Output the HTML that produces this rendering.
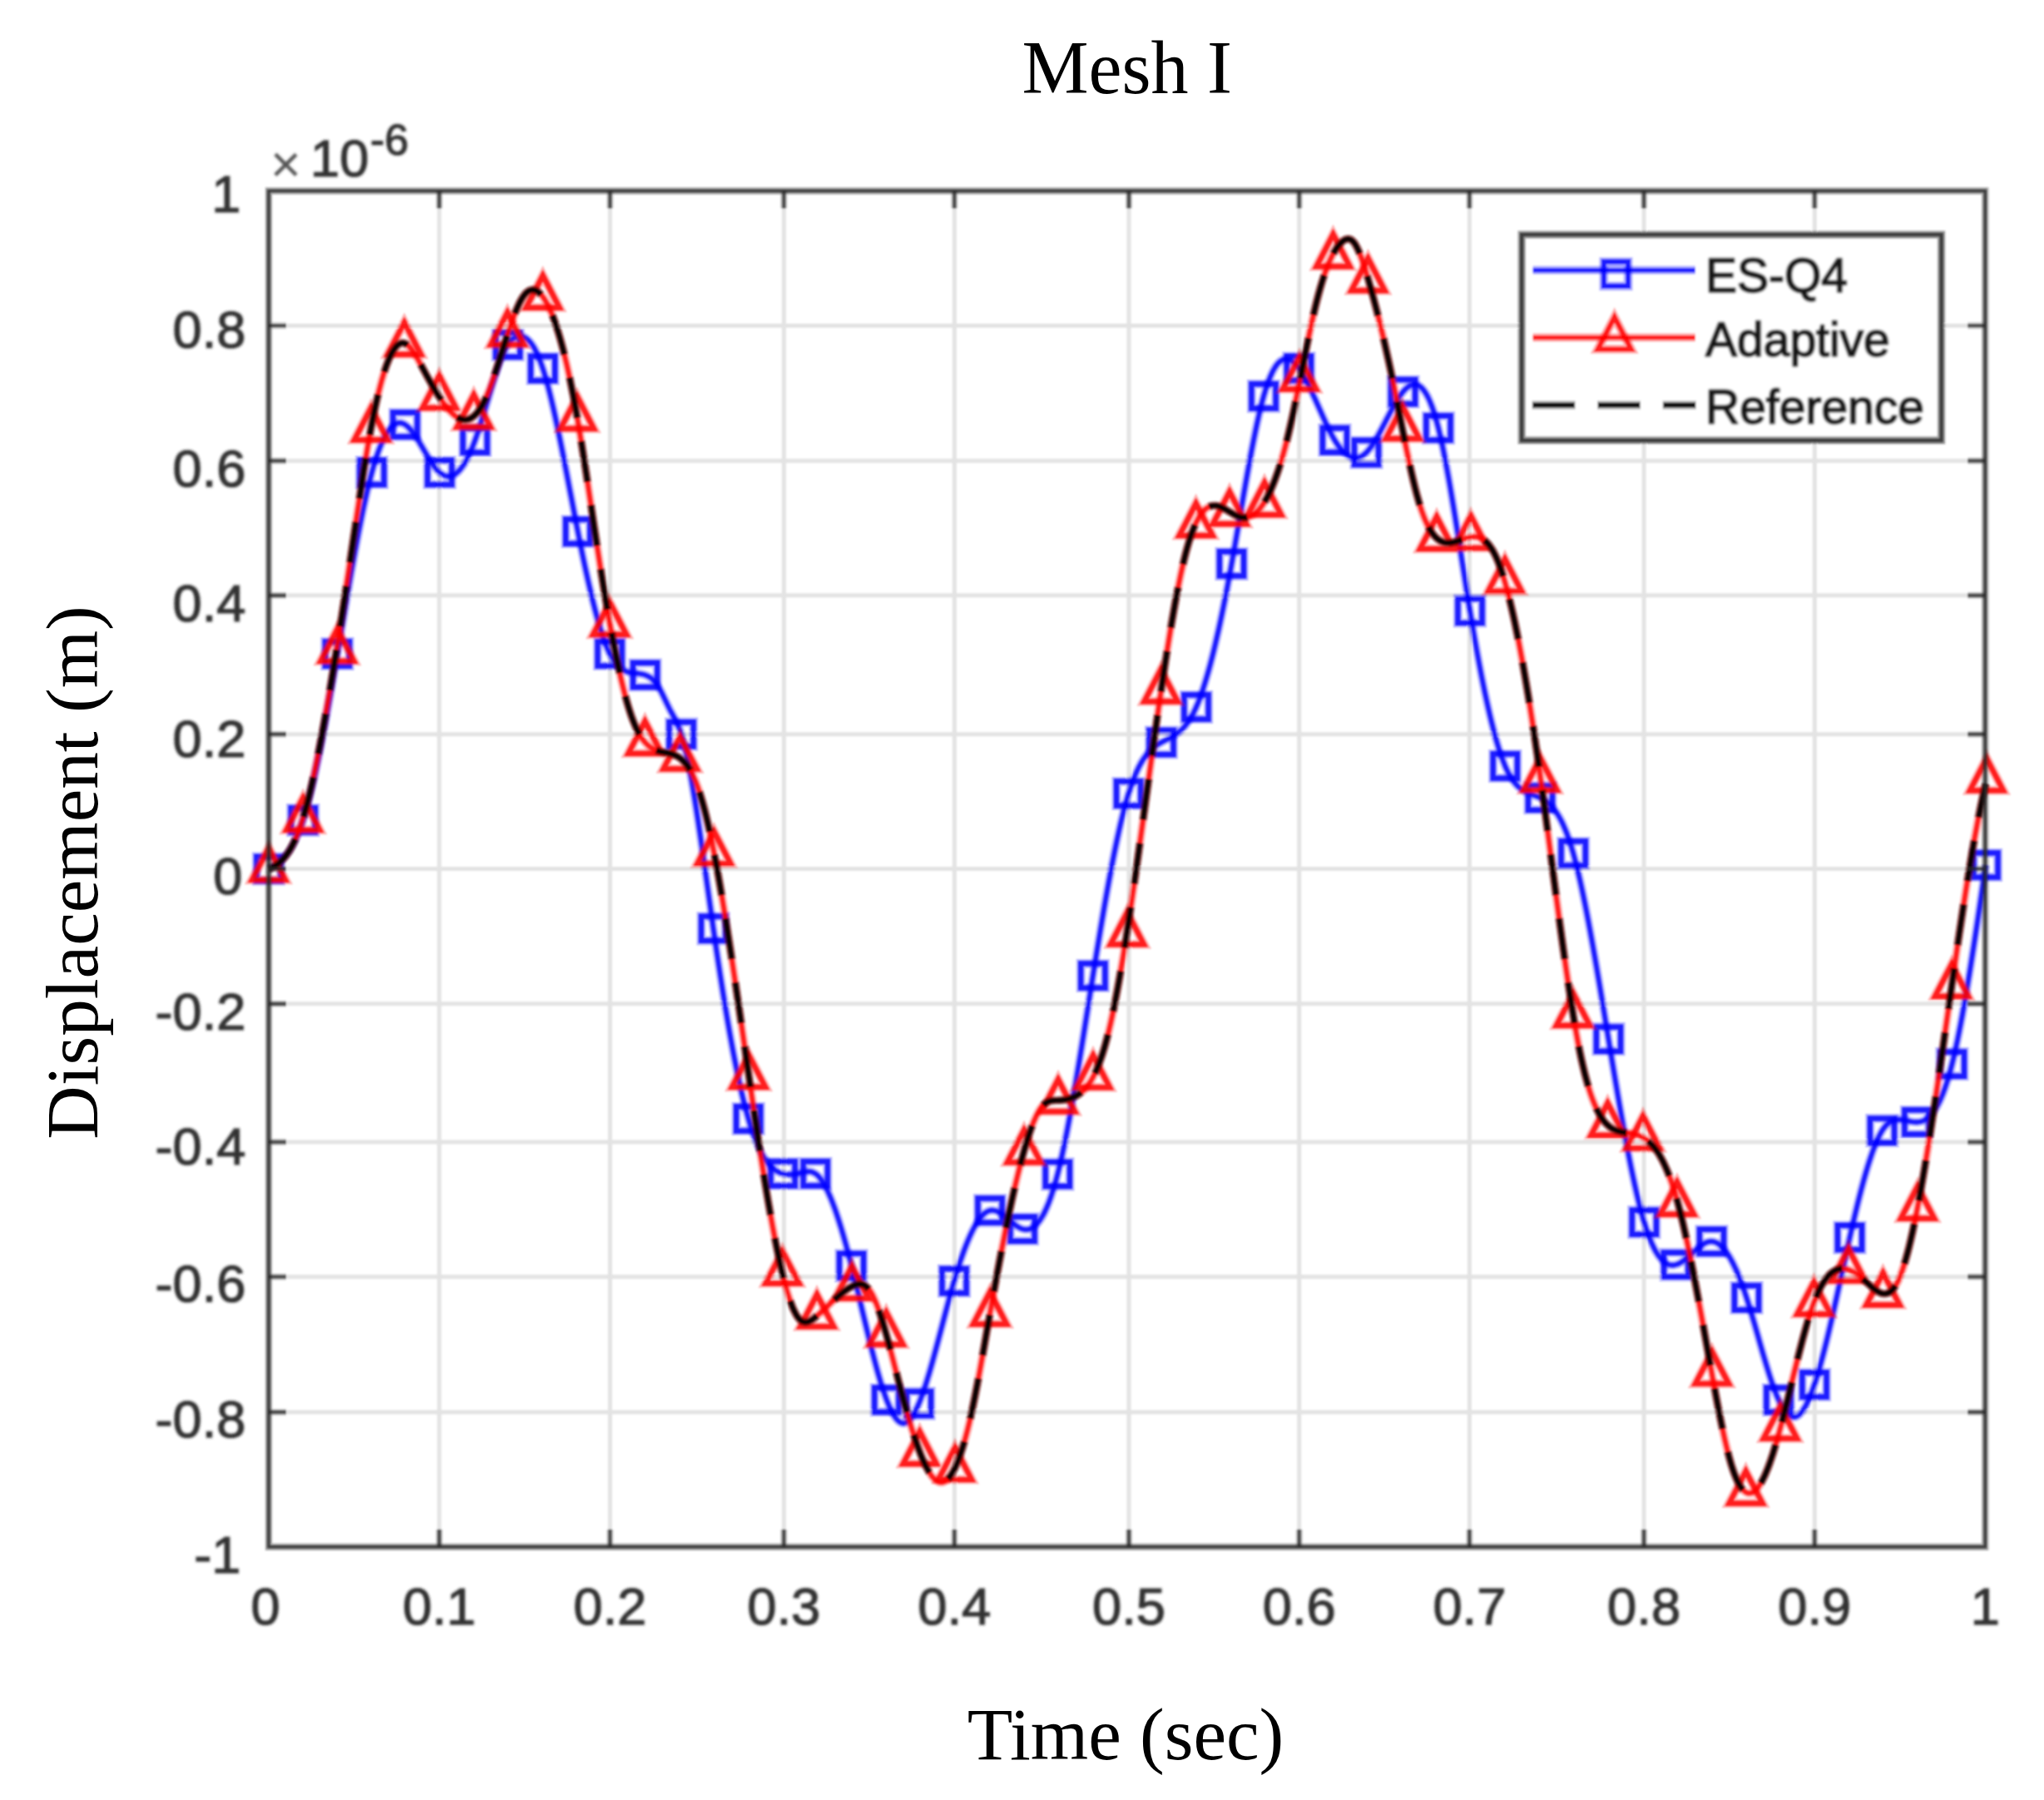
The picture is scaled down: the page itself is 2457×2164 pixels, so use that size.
<!DOCTYPE html>
<html><head><meta charset="utf-8"><title>Mesh I</title>
<style>
html,body{margin:0;padding:0;background:#fff;}
body{width:2457px;height:2164px;overflow:hidden;}
svg{display:block;}
.sans{font-family:"Liberation Sans",Arial,Helvetica,sans-serif;}
.serif{font-family:"Liberation Serif","Times New Roman",Times,serif;}
</style></head><body>
<svg width="2457" height="2164" viewBox="0 0 2457 2164">
<defs><filter id="b" x="-2%" y="-2%" width="104%" height="104%"><feGaussianBlur stdDeviation="1.15"/></filter>
<filter id="bt" x="-5%" y="-20%" width="110%" height="140%"><feGaussianBlur stdDeviation="1.1"/></filter>
<filter id="b2" x="-2%" y="-2%" width="104%" height="104%"><feGaussianBlur stdDeviation="0.6"/></filter></defs>
<rect width="2457" height="2164" fill="#fff"/>
<g filter="url(#b)">
<path d="M528 229.5V1859.7M733.3 229.5V1859.7M942.3 229.5V1859.7M1147.3 229.5V1859.7M1357 229.5V1859.7M1561.7 229.5V1859.7M1766.4 229.5V1859.7M1976.1 229.5V1859.7M2181.3 229.5V1859.7M323 391.5H2386.3M323 554H2386.3M323 715.8H2386.3M323 882.7H2386.3M323 1044.5H2386.3M323 1206.8H2386.3M323 1373H2386.3M323 1535H2386.3M323 1697.7H2386.3" stroke="#e3e3e3" stroke-width="5.0" fill="none"/>
<path d="M323 1044.5 L325 1043.3 L327 1042.1 L329 1040.9 L331 1039.6 L333 1038.2 L335 1036.7 L337 1035 L339 1033.2 L341 1031.2 L343 1029 L345 1026.5 L347 1023.8 L349 1020.8 L351 1017.5 L353 1013.8 L355 1009.9 L357 1005.5 L359 1000.7 L361 995.5 L363 989.9 L365 983.8 L367 977.2 L369 970.2 L371 962.7 L373 954.8 L375 946.5 L377 937.9 L379 928.9 L381 919.5 L383 909.9 L385 899.9 L387 889.7 L389 879.2 L391 868.5 L393 857.6 L395 846.5 L397 835.3 L399 823.8 L401 812.3 L403 800.7 L405 788.9 L407 777.2 L409 765.3 L411 753.5 L413 741.7 L415 729.9 L417 718.2 L419 706.5 L421 695 L423 683.7 L425 672.5 L427 661.5 L429 650.7 L431 640.2 L433 629.9 L435 620 L437 610.3 L439 601.1 L441 592.2 L443 583.7 L445 575.6 L447 568 L449 560.9 L451 554.2 L453 548 L455 542.3 L457 537.1 L459 532.3 L461 528 L463 524.1 L465 520.6 L467 517.6 L469 515 L471 512.9 L473 511.2 L475 509.9 L477 509 L479 508.5 L481 508.4 L483 508.7 L485 509.4 L487 510.5 L489 512 L491 513.8 L493 515.9 L495 518.3 L497 521 L499 523.8 L501 526.9 L503 530 L505 533.3 L507 536.7 L509 540.1 L511 543.5 L513 546.8 L515 550.1 L517 553.3 L519 556.4 L521 559.3 L523 562 L525 564.4 L527 566.6 L529 568.4 L531 570 L533 571.2 L535 572 L537 572.5 L539 572.7 L541 572.6 L543 572.1 L545 571.3 L547 570.1 L549 568.6 L551 566.8 L553 564.6 L555 562 L557 559.2 L559 556 L561 552.4 L563 548.5 L565 544.3 L567 539.7 L569 534.8 L571 529.5 L573 523.9 L575 518 L577 511.8 L579 505.4 L581 498.9 L583 492.3 L585 485.6 L587 478.9 L589 472.2 L591 465.5 L593 459 L595 452.7 L597 446.6 L599 440.7 L601 435.2 L603 430 L605 425.2 L607 420.9 L609 417 L611 413.7 L613 411 L615 408.8 L617 407 L619 405.7 L621 404.9 L623 404.3 L625 404.1 L627 404.3 L629 404.8 L631 405.7 L633 407 L635 408.8 L637 410.9 L639 413.4 L641 416.4 L643 419.9 L645 423.8 L647 428.3 L649 433.2 L651 438.6 L653 444.5 L655 451 L657 458 L659 465.4 L661 473.2 L663 481.5 L665 490.1 L667 499.1 L669 508.3 L671 517.8 L673 527.6 L675 537.5 L677 547.6 L679 557.9 L681 568.2 L683 578.7 L685 589.2 L687 599.6 L689 610.1 L691 620.5 L693 630.8 L695 641 L697 651.1 L699 661 L701 670.7 L703 680.2 L705 689.4 L707 698.5 L709 707.2 L711 715.7 L713 723.9 L715 731.8 L717 739.4 L719 746.6 L721 753.5 L723 760 L725 766.1 L727 771.7 L729 776.9 L731 781.7 L733 786 L735 789.8 L737 793.2 L739 796.1 L741 798.6 L743 800.8 L745 802.6 L747 804.2 L749 805.4 L751 806.5 L753 807.3 L755 807.9 L757 808.4 L759 808.8 L761 809.1 L763 809.3 L765 809.5 L767 809.7 L769 810 L771 810.3 L773 810.8 L775 811.3 L777 812.1 L779 813 L781 814.2 L783 815.6 L785 817.4 L787 819.5 L789 822 L791 824.9 L793 828.2 L795 832 L797 836 L799 840.2 L801 844.4 L803 848.6 L805 852.6 L807 856.4 L809 860 L811 863.6 L813 867.5 L815 871.9 L817 876.9 L819 882.7 L821 889.5 L823 897.2 L825 905.9 L827 915.4 L829 925.6 L831 936.5 L833 948.1 L835 960.2 L837 972.8 L839 985.9 L841 999.4 L843 1013.1 L845 1027.1 L847 1041.3 L849 1055.6 L851 1070 L853 1084.4 L855 1098.6 L857 1112.8 L859 1126.7 L861 1140.5 L863 1153.9 L865 1167.2 L867 1180.2 L869 1192.9 L871 1205.3 L873 1217.4 L875 1229.2 L877 1240.7 L879 1251.9 L881 1262.7 L883 1273.2 L885 1283.3 L887 1293 L889 1302.4 L891 1311.3 L893 1319.9 L895 1328 L897 1335.7 L899 1342.9 L901 1349.7 L903 1356.1 L905 1362 L907 1367.5 L909 1372.5 L911 1377.2 L913 1381.6 L915 1385.5 L917 1389.2 L919 1392.4 L921 1395.4 L923 1398.1 L925 1400.5 L927 1402.6 L929 1404.4 L931 1406.1 L933 1407.4 L935 1408.6 L937 1409.6 L939 1410.4 L941 1411 L943 1411.5 L945 1411.8 L947 1412 L949 1412 L951 1412 L953 1411.8 L955 1411.6 L957 1411.3 L959 1410.9 L961 1410.4 L963 1409.9 L965 1409.4 L967 1409 L969 1408.6 L971 1408.4 L973 1408.5 L975 1408.7 L977 1409.3 L979 1410.3 L981 1411.6 L983 1413.3 L985 1415.5 L987 1418.1 L989 1421 L991 1424.4 L993 1428.1 L995 1432.2 L997 1436.6 L999 1441.3 L1001 1446.4 L1003 1451.7 L1005 1457.4 L1007 1463.3 L1009 1469.6 L1011 1476 L1013 1482.7 L1015 1489.7 L1017 1496.9 L1019 1504.3 L1021 1511.9 L1023 1519.6 L1025 1527.6 L1027 1535.7 L1029 1543.9 L1031 1552.2 L1033 1560.6 L1035 1569 L1037 1577.5 L1039 1585.9 L1041 1594.2 L1043 1602.5 L1045 1610.7 L1047 1618.8 L1049 1626.7 L1051 1634.4 L1053 1641.9 L1055 1649.2 L1057 1656.2 L1059 1662.9 L1061 1669.2 L1063 1675.2 L1065 1680.9 L1067 1686.1 L1069 1690.9 L1071 1695.2 L1073 1699 L1075 1702.4 L1077 1705.2 L1079 1707.5 L1081 1709.3 L1083 1710.4 L1085 1711 L1087 1711 L1089 1710.3 L1091 1709.1 L1093 1707.3 L1095 1705 L1097 1702.2 L1099 1698.9 L1101 1695.1 L1103 1690.9 L1105 1686.2 L1107 1681.1 L1109 1675.7 L1111 1669.9 L1113 1663.8 L1115 1657.3 L1117 1650.7 L1119 1643.8 L1121 1636.7 L1123 1629.4 L1125 1622 L1127 1614.5 L1129 1606.9 L1131 1599.3 L1133 1591.7 L1135 1584 L1137 1576.4 L1139 1568.9 L1141 1561.4 L1143 1554.1 L1145 1547 L1147 1540 L1149 1533.3 L1151 1526.7 L1153 1520.4 L1155 1514.4 L1157 1508.6 L1159 1503 L1161 1497.8 L1163 1492.8 L1165 1488 L1167 1483.6 L1169 1479.4 L1171 1475.6 L1173 1472 L1175 1468.8 L1177 1465.9 L1179 1463.3 L1181 1461 L1183 1459.1 L1185 1457.6 L1187 1456.4 L1189 1455.6 L1191 1455.1 L1193 1455 L1195 1455.3 L1197 1455.8 L1199 1456.6 L1201 1457.6 L1203 1458.9 L1205 1460.2 L1207 1461.7 L1209 1463.4 L1211 1465 L1213 1466.7 L1215 1468.4 L1217 1470.1 L1219 1471.7 L1221 1473.2 L1223 1474.6 L1225 1475.8 L1227 1476.7 L1229 1477.5 L1231 1478 L1233 1478.2 L1235 1478.1 L1237 1477.7 L1239 1477 L1241 1476 L1243 1474.6 L1245 1472.9 L1247 1470.8 L1249 1468.4 L1251 1465.5 L1253 1462.2 L1255 1458.6 L1257 1454.5 L1259 1449.9 L1261 1444.9 L1263 1439.5 L1265 1433.5 L1267 1427.1 L1269 1420.2 L1271 1412.8 L1273 1404.8 L1275 1396.3 L1277 1387.4 L1279 1378 L1281 1368.2 L1283 1358 L1285 1347.5 L1287 1336.6 L1289 1325.4 L1291 1314 L1293 1302.3 L1295 1290.3 L1297 1278.2 L1299 1266 L1301 1253.6 L1303 1241.1 L1305 1228.5 L1307 1215.9 L1309 1203.2 L1311 1190.6 L1313 1178 L1315 1165.5 L1317 1153.1 L1319 1140.8 L1321 1128.6 L1323 1116.5 L1325 1104.7 L1327 1093 L1329 1081.5 L1331 1070.2 L1333 1059.2 L1335 1048.5 L1337 1038 L1339 1027.8 L1341 1017.9 L1343 1008.4 L1345 999.2 L1347 990.4 L1349 982 L1351 974 L1353 966.5 L1355 959.4 L1357 952.7 L1359 946.5 L1361 940.8 L1363 935.5 L1365 930.7 L1367 926.2 L1369 922.1 L1371 918.4 L1373 914.9 L1375 911.8 L1377 909 L1379 906.5 L1381 904.1 L1383 902.1 L1385 900.2 L1387 898.5 L1389 896.9 L1391 895.5 L1393 894.2 L1395 893.1 L1397 892 L1399 890.9 L1401 889.9 L1403 888.9 L1405 887.8 L1407 886.8 L1409 885.7 L1411 884.5 L1413 883.2 L1415 881.8 L1417 880.3 L1419 878.5 L1421 876.6 L1423 874.5 L1425 872.2 L1427 869.6 L1429 866.8 L1431 863.6 L1433 860.2 L1435 856.4 L1437 852.2 L1439 847.7 L1441 842.8 L1443 837.5 L1445 831.8 L1447 825.7 L1449 819.3 L1451 812.6 L1453 805.5 L1455 798.1 L1457 790.3 L1459 782.3 L1461 773.9 L1463 765.2 L1465 756.3 L1467 747 L1469 737.5 L1471 727.7 L1473 717.7 L1475 707.4 L1477 696.8 L1479 686 L1481 675 L1483 663.8 L1485 652.4 L1487 640.9 L1489 629.3 L1491 617.7 L1493 606.1 L1495 594.5 L1497 583 L1499 571.7 L1501 560.6 L1503 549.7 L1505 539.1 L1507 528.8 L1509 518.9 L1511 509.4 L1513 500.3 L1515 491.7 L1517 483.7 L1519 476.3 L1521 469.5 L1523 463.3 L1525 457.7 L1527 452.8 L1529 448.3 L1531 444.5 L1533 441.1 L1535 438.3 L1537 436 L1539 434.2 L1541 432.9 L1543 432 L1545 431.6 L1547 431.6 L1549 432 L1551 432.8 L1553 434 L1555 435.6 L1557 437.5 L1559 439.7 L1561 442.3 L1563 445.1 L1565 448.2 L1567 451.6 L1569 455.2 L1571 459 L1573 463 L1575 467.1 L1577 471.4 L1579 475.8 L1581 480.2 L1583 484.7 L1585 489.2 L1587 493.7 L1589 498.2 L1591 502.6 L1593 507 L1595 511.3 L1597 515.4 L1599 519.4 L1601 523.2 L1603 526.8 L1605 530.2 L1607 533.3 L1609 536.2 L1611 538.9 L1613 541.2 L1615 543.4 L1617 545.2 L1619 546.8 L1621 548.1 L1623 549.2 L1625 549.9 L1627 550.4 L1629 550.6 L1631 550.5 L1633 550.1 L1635 549.4 L1637 548.4 L1639 547 L1641 545.4 L1643 543.5 L1645 541.2 L1647 538.7 L1649 535.9 L1651 532.9 L1653 529.7 L1655 526.3 L1657 522.7 L1659 519.1 L1661 515.3 L1663 511.5 L1665 507.6 L1667 503.7 L1669 499.9 L1671 496.1 L1673 492.3 L1675 488.7 L1677 485.2 L1679 481.8 L1681 478.6 L1683 475.6 L1685 472.9 L1687 470.4 L1689 468.2 L1691 466.3 L1693 464.8 L1695 463.5 L1697 462.7 L1699 462.2 L1701 462.2 L1703 462.5 L1705 463.3 L1707 464.6 L1709 466.3 L1711 468.6 L1713 471.3 L1715 474.7 L1717 478.5 L1719 483 L1721 488 L1723 493.6 L1725 499.9 L1727 506.9 L1729 514.5 L1731 522.8 L1733 531.7 L1735 541.3 L1737 551.4 L1739 562 L1741 573 L1743 584.4 L1745 596.2 L1747 608.3 L1749 620.6 L1751 633.1 L1753 645.7 L1755 658.5 L1757 671.3 L1759 684.1 L1761 696.9 L1763 709.6 L1765 722.1 L1767 734.4 L1769 746.5 L1771 758.3 L1773 769.8 L1775 781.1 L1777 792.1 L1779 802.8 L1781 813.2 L1783 823.2 L1785 833 L1787 842.3 L1789 851.4 L1791 860.1 L1793 868.4 L1795 876.3 L1797 883.8 L1799 891 L1801 897.7 L1803 904 L1805 909.9 L1807 915.3 L1809 920.3 L1811 924.8 L1813 928.9 L1815 932.6 L1817 935.8 L1819 938.8 L1821 941.4 L1823 943.6 L1825 945.7 L1827 947.4 L1829 949 L1831 950.3 L1833 951.5 L1835 952.5 L1837 953.4 L1839 954.3 L1841 955 L1843 955.8 L1845 956.5 L1847 957.3 L1849 958.1 L1851 959 L1853 960 L1855 961.1 L1857 962.3 L1859 963.8 L1861 965.4 L1863 967.2 L1865 969.2 L1867 971.5 L1869 974.1 L1871 976.9 L1873 980.1 L1875 983.5 L1877 987.3 L1879 991.5 L1881 996.1 L1883 1001 L1885 1006.4 L1887 1012.2 L1889 1018.5 L1891 1025.3 L1893 1032.6 L1895 1040.3 L1897 1048.5 L1899 1057.2 L1901 1066.2 L1903 1075.6 L1905 1085.4 L1907 1095.6 L1909 1106 L1911 1116.7 L1913 1127.7 L1915 1138.9 L1917 1150.3 L1919 1161.9 L1921 1173.7 L1923 1185.5 L1925 1197.5 L1927 1209.6 L1929 1221.8 L1931 1234 L1933 1246.2 L1935 1258.3 L1937 1270.5 L1939 1282.5 L1941 1294.5 L1943 1306.4 L1945 1318.2 L1947 1329.8 L1949 1341.3 L1951 1352.5 L1953 1363.6 L1955 1374.4 L1957 1384.9 L1959 1395.2 L1961 1405.2 L1963 1414.8 L1965 1424.1 L1967 1433 L1969 1441.6 L1971 1449.7 L1973 1457.4 L1975 1464.6 L1977 1471.4 L1979 1477.6 L1981 1483.4 L1983 1488.7 L1985 1493.6 L1987 1498 L1989 1502 L1991 1505.6 L1993 1508.8 L1995 1511.5 L1997 1513.9 L1999 1516 L2001 1517.6 L2003 1518.9 L2005 1519.9 L2007 1520.6 L2009 1521 L2011 1521 L2013 1520.8 L2015 1520.3 L2017 1519.6 L2019 1518.6 L2021 1517.4 L2023 1516 L2025 1514.5 L2027 1512.9 L2029 1511.2 L2031 1509.4 L2033 1507.5 L2035 1505.7 L2037 1503.9 L2039 1502.1 L2041 1500.4 L2043 1498.8 L2045 1497.3 L2047 1495.9 L2049 1494.8 L2051 1493.8 L2053 1493.1 L2055 1492.7 L2057 1492.5 L2059 1492.6 L2061 1493.1 L2063 1493.9 L2065 1495 L2067 1496.4 L2069 1498.1 L2071 1500.2 L2073 1502.5 L2075 1505.1 L2077 1508 L2079 1511.2 L2081 1514.7 L2083 1518.5 L2085 1522.6 L2087 1526.9 L2089 1531.6 L2091 1536.4 L2093 1541.6 L2095 1547 L2097 1552.7 L2099 1558.7 L2101 1564.9 L2103 1571.3 L2105 1577.9 L2107 1584.7 L2109 1591.6 L2111 1598.6 L2113 1605.6 L2115 1612.7 L2117 1619.7 L2119 1626.7 L2121 1633.5 L2123 1640.3 L2125 1646.8 L2127 1653.2 L2129 1659.3 L2131 1665.2 L2133 1670.7 L2135 1675.9 L2137 1680.7 L2139 1685.1 L2141 1689.1 L2143 1692.6 L2145 1695.6 L2147 1698.2 L2149 1700.3 L2151 1701.9 L2153 1703 L2155 1703.6 L2157 1703.6 L2159 1703.1 L2161 1702.1 L2163 1700.5 L2165 1698.4 L2167 1695.9 L2169 1692.8 L2171 1689.2 L2173 1685.2 L2175 1680.7 L2177 1675.8 L2179 1670.4 L2181 1664.7 L2183 1658.6 L2185 1652.1 L2187 1645.2 L2189 1638 L2191 1630.5 L2193 1622.8 L2195 1614.8 L2197 1606.6 L2199 1598.1 L2201 1589.5 L2203 1580.8 L2205 1571.9 L2207 1562.9 L2209 1553.8 L2211 1544.7 L2213 1535.5 L2215 1526.3 L2217 1517.2 L2219 1508.1 L2221 1499 L2223 1490 L2225 1481.2 L2227 1472.4 L2229 1463.9 L2231 1455.5 L2233 1447.2 L2235 1439.2 L2237 1431.4 L2239 1423.8 L2241 1416.5 L2243 1409.5 L2245 1402.8 L2247 1396.4 L2249 1390.3 L2251 1384.5 L2253 1379.2 L2255 1374.2 L2257 1369.6 L2259 1365.4 L2261 1361.7 L2263 1358.4 L2265 1355.6 L2267 1353.2 L2269 1351.3 L2271 1349.6 L2273 1348.4 L2275 1347.4 L2277 1346.7 L2279 1346.3 L2281 1346.1 L2283 1346 L2285 1346.1 L2287 1346.4 L2289 1346.7 L2291 1347.1 L2293 1347.5 L2295 1347.9 L2297 1348.3 L2299 1348.7 L2301 1348.9 L2303 1349 L2305 1349 L2307 1348.7 L2309 1348.3 L2311 1347.7 L2313 1346.8 L2315 1345.6 L2317 1344.2 L2319 1342.5 L2321 1340.5 L2323 1338.1 L2325 1335.4 L2327 1332.4 L2329 1328.9 L2331 1325.1 L2333 1320.8 L2335 1316 L2337 1310.8 L2339 1305.1 L2341 1299 L2343 1292.2 L2345 1285 L2347 1277.2 L2349 1268.8 L2351 1259.9 L2353 1250.5 L2355 1240.6 L2357 1230.3 L2359 1219.5 L2361 1208.3 L2363 1196.8 L2365 1184.9 L2367 1172.7 L2369 1160.3 L2371 1147.5 L2373 1134.6 L2375 1121.5 L2377 1108.1 L2379 1094.7 L2381 1081.1 L2383 1067.5 L2385 1053.7 L2387 1040" stroke="#0000ff" stroke-width="10.4" stroke-opacity="0.3" fill="none" stroke-linejoin="round"/><path d="M323 1044.5 L325 1043.3 L327 1042.1 L329 1040.9 L331 1039.6 L333 1038.2 L335 1036.7 L337 1035 L339 1033.2 L341 1031.2 L343 1029 L345 1026.5 L347 1023.8 L349 1020.8 L351 1017.5 L353 1013.8 L355 1009.9 L357 1005.5 L359 1000.7 L361 995.5 L363 989.9 L365 983.8 L367 977.2 L369 970.2 L371 962.7 L373 954.8 L375 946.5 L377 937.9 L379 928.9 L381 919.5 L383 909.9 L385 899.9 L387 889.7 L389 879.2 L391 868.5 L393 857.6 L395 846.5 L397 835.3 L399 823.8 L401 812.3 L403 800.7 L405 788.9 L407 777.2 L409 765.3 L411 753.5 L413 741.7 L415 729.9 L417 718.2 L419 706.5 L421 695 L423 683.7 L425 672.5 L427 661.5 L429 650.7 L431 640.2 L433 629.9 L435 620 L437 610.3 L439 601.1 L441 592.2 L443 583.7 L445 575.6 L447 568 L449 560.9 L451 554.2 L453 548 L455 542.3 L457 537.1 L459 532.3 L461 528 L463 524.1 L465 520.6 L467 517.6 L469 515 L471 512.9 L473 511.2 L475 509.9 L477 509 L479 508.5 L481 508.4 L483 508.7 L485 509.4 L487 510.5 L489 512 L491 513.8 L493 515.9 L495 518.3 L497 521 L499 523.8 L501 526.9 L503 530 L505 533.3 L507 536.7 L509 540.1 L511 543.5 L513 546.8 L515 550.1 L517 553.3 L519 556.4 L521 559.3 L523 562 L525 564.4 L527 566.6 L529 568.4 L531 570 L533 571.2 L535 572 L537 572.5 L539 572.7 L541 572.6 L543 572.1 L545 571.3 L547 570.1 L549 568.6 L551 566.8 L553 564.6 L555 562 L557 559.2 L559 556 L561 552.4 L563 548.5 L565 544.3 L567 539.7 L569 534.8 L571 529.5 L573 523.9 L575 518 L577 511.8 L579 505.4 L581 498.9 L583 492.3 L585 485.6 L587 478.9 L589 472.2 L591 465.5 L593 459 L595 452.7 L597 446.6 L599 440.7 L601 435.2 L603 430 L605 425.2 L607 420.9 L609 417 L611 413.7 L613 411 L615 408.8 L617 407 L619 405.7 L621 404.9 L623 404.3 L625 404.1 L627 404.3 L629 404.8 L631 405.7 L633 407 L635 408.8 L637 410.9 L639 413.4 L641 416.4 L643 419.9 L645 423.8 L647 428.3 L649 433.2 L651 438.6 L653 444.5 L655 451 L657 458 L659 465.4 L661 473.2 L663 481.5 L665 490.1 L667 499.1 L669 508.3 L671 517.8 L673 527.6 L675 537.5 L677 547.6 L679 557.9 L681 568.2 L683 578.7 L685 589.2 L687 599.6 L689 610.1 L691 620.5 L693 630.8 L695 641 L697 651.1 L699 661 L701 670.7 L703 680.2 L705 689.4 L707 698.5 L709 707.2 L711 715.7 L713 723.9 L715 731.8 L717 739.4 L719 746.6 L721 753.5 L723 760 L725 766.1 L727 771.7 L729 776.9 L731 781.7 L733 786 L735 789.8 L737 793.2 L739 796.1 L741 798.6 L743 800.8 L745 802.6 L747 804.2 L749 805.4 L751 806.5 L753 807.3 L755 807.9 L757 808.4 L759 808.8 L761 809.1 L763 809.3 L765 809.5 L767 809.7 L769 810 L771 810.3 L773 810.8 L775 811.3 L777 812.1 L779 813 L781 814.2 L783 815.6 L785 817.4 L787 819.5 L789 822 L791 824.9 L793 828.2 L795 832 L797 836 L799 840.2 L801 844.4 L803 848.6 L805 852.6 L807 856.4 L809 860 L811 863.6 L813 867.5 L815 871.9 L817 876.9 L819 882.7 L821 889.5 L823 897.2 L825 905.9 L827 915.4 L829 925.6 L831 936.5 L833 948.1 L835 960.2 L837 972.8 L839 985.9 L841 999.4 L843 1013.1 L845 1027.1 L847 1041.3 L849 1055.6 L851 1070 L853 1084.4 L855 1098.6 L857 1112.8 L859 1126.7 L861 1140.5 L863 1153.9 L865 1167.2 L867 1180.2 L869 1192.9 L871 1205.3 L873 1217.4 L875 1229.2 L877 1240.7 L879 1251.9 L881 1262.7 L883 1273.2 L885 1283.3 L887 1293 L889 1302.4 L891 1311.3 L893 1319.9 L895 1328 L897 1335.7 L899 1342.9 L901 1349.7 L903 1356.1 L905 1362 L907 1367.5 L909 1372.5 L911 1377.2 L913 1381.6 L915 1385.5 L917 1389.2 L919 1392.4 L921 1395.4 L923 1398.1 L925 1400.5 L927 1402.6 L929 1404.4 L931 1406.1 L933 1407.4 L935 1408.6 L937 1409.6 L939 1410.4 L941 1411 L943 1411.5 L945 1411.8 L947 1412 L949 1412 L951 1412 L953 1411.8 L955 1411.6 L957 1411.3 L959 1410.9 L961 1410.4 L963 1409.9 L965 1409.4 L967 1409 L969 1408.6 L971 1408.4 L973 1408.5 L975 1408.7 L977 1409.3 L979 1410.3 L981 1411.6 L983 1413.3 L985 1415.5 L987 1418.1 L989 1421 L991 1424.4 L993 1428.1 L995 1432.2 L997 1436.6 L999 1441.3 L1001 1446.4 L1003 1451.7 L1005 1457.4 L1007 1463.3 L1009 1469.6 L1011 1476 L1013 1482.7 L1015 1489.7 L1017 1496.9 L1019 1504.3 L1021 1511.9 L1023 1519.6 L1025 1527.6 L1027 1535.7 L1029 1543.9 L1031 1552.2 L1033 1560.6 L1035 1569 L1037 1577.5 L1039 1585.9 L1041 1594.2 L1043 1602.5 L1045 1610.7 L1047 1618.8 L1049 1626.7 L1051 1634.4 L1053 1641.9 L1055 1649.2 L1057 1656.2 L1059 1662.9 L1061 1669.2 L1063 1675.2 L1065 1680.9 L1067 1686.1 L1069 1690.9 L1071 1695.2 L1073 1699 L1075 1702.4 L1077 1705.2 L1079 1707.5 L1081 1709.3 L1083 1710.4 L1085 1711 L1087 1711 L1089 1710.3 L1091 1709.1 L1093 1707.3 L1095 1705 L1097 1702.2 L1099 1698.9 L1101 1695.1 L1103 1690.9 L1105 1686.2 L1107 1681.1 L1109 1675.7 L1111 1669.9 L1113 1663.8 L1115 1657.3 L1117 1650.7 L1119 1643.8 L1121 1636.7 L1123 1629.4 L1125 1622 L1127 1614.5 L1129 1606.9 L1131 1599.3 L1133 1591.7 L1135 1584 L1137 1576.4 L1139 1568.9 L1141 1561.4 L1143 1554.1 L1145 1547 L1147 1540 L1149 1533.3 L1151 1526.7 L1153 1520.4 L1155 1514.4 L1157 1508.6 L1159 1503 L1161 1497.8 L1163 1492.8 L1165 1488 L1167 1483.6 L1169 1479.4 L1171 1475.6 L1173 1472 L1175 1468.8 L1177 1465.9 L1179 1463.3 L1181 1461 L1183 1459.1 L1185 1457.6 L1187 1456.4 L1189 1455.6 L1191 1455.1 L1193 1455 L1195 1455.3 L1197 1455.8 L1199 1456.6 L1201 1457.6 L1203 1458.9 L1205 1460.2 L1207 1461.7 L1209 1463.4 L1211 1465 L1213 1466.7 L1215 1468.4 L1217 1470.1 L1219 1471.7 L1221 1473.2 L1223 1474.6 L1225 1475.8 L1227 1476.7 L1229 1477.5 L1231 1478 L1233 1478.2 L1235 1478.1 L1237 1477.7 L1239 1477 L1241 1476 L1243 1474.6 L1245 1472.9 L1247 1470.8 L1249 1468.4 L1251 1465.5 L1253 1462.2 L1255 1458.6 L1257 1454.5 L1259 1449.9 L1261 1444.9 L1263 1439.5 L1265 1433.5 L1267 1427.1 L1269 1420.2 L1271 1412.8 L1273 1404.8 L1275 1396.3 L1277 1387.4 L1279 1378 L1281 1368.2 L1283 1358 L1285 1347.5 L1287 1336.6 L1289 1325.4 L1291 1314 L1293 1302.3 L1295 1290.3 L1297 1278.2 L1299 1266 L1301 1253.6 L1303 1241.1 L1305 1228.5 L1307 1215.9 L1309 1203.2 L1311 1190.6 L1313 1178 L1315 1165.5 L1317 1153.1 L1319 1140.8 L1321 1128.6 L1323 1116.5 L1325 1104.7 L1327 1093 L1329 1081.5 L1331 1070.2 L1333 1059.2 L1335 1048.5 L1337 1038 L1339 1027.8 L1341 1017.9 L1343 1008.4 L1345 999.2 L1347 990.4 L1349 982 L1351 974 L1353 966.5 L1355 959.4 L1357 952.7 L1359 946.5 L1361 940.8 L1363 935.5 L1365 930.7 L1367 926.2 L1369 922.1 L1371 918.4 L1373 914.9 L1375 911.8 L1377 909 L1379 906.5 L1381 904.1 L1383 902.1 L1385 900.2 L1387 898.5 L1389 896.9 L1391 895.5 L1393 894.2 L1395 893.1 L1397 892 L1399 890.9 L1401 889.9 L1403 888.9 L1405 887.8 L1407 886.8 L1409 885.7 L1411 884.5 L1413 883.2 L1415 881.8 L1417 880.3 L1419 878.5 L1421 876.6 L1423 874.5 L1425 872.2 L1427 869.6 L1429 866.8 L1431 863.6 L1433 860.2 L1435 856.4 L1437 852.2 L1439 847.7 L1441 842.8 L1443 837.5 L1445 831.8 L1447 825.7 L1449 819.3 L1451 812.6 L1453 805.5 L1455 798.1 L1457 790.3 L1459 782.3 L1461 773.9 L1463 765.2 L1465 756.3 L1467 747 L1469 737.5 L1471 727.7 L1473 717.7 L1475 707.4 L1477 696.8 L1479 686 L1481 675 L1483 663.8 L1485 652.4 L1487 640.9 L1489 629.3 L1491 617.7 L1493 606.1 L1495 594.5 L1497 583 L1499 571.7 L1501 560.6 L1503 549.7 L1505 539.1 L1507 528.8 L1509 518.9 L1511 509.4 L1513 500.3 L1515 491.7 L1517 483.7 L1519 476.3 L1521 469.5 L1523 463.3 L1525 457.7 L1527 452.8 L1529 448.3 L1531 444.5 L1533 441.1 L1535 438.3 L1537 436 L1539 434.2 L1541 432.9 L1543 432 L1545 431.6 L1547 431.6 L1549 432 L1551 432.8 L1553 434 L1555 435.6 L1557 437.5 L1559 439.7 L1561 442.3 L1563 445.1 L1565 448.2 L1567 451.6 L1569 455.2 L1571 459 L1573 463 L1575 467.1 L1577 471.4 L1579 475.8 L1581 480.2 L1583 484.7 L1585 489.2 L1587 493.7 L1589 498.2 L1591 502.6 L1593 507 L1595 511.3 L1597 515.4 L1599 519.4 L1601 523.2 L1603 526.8 L1605 530.2 L1607 533.3 L1609 536.2 L1611 538.9 L1613 541.2 L1615 543.4 L1617 545.2 L1619 546.8 L1621 548.1 L1623 549.2 L1625 549.9 L1627 550.4 L1629 550.6 L1631 550.5 L1633 550.1 L1635 549.4 L1637 548.4 L1639 547 L1641 545.4 L1643 543.5 L1645 541.2 L1647 538.7 L1649 535.9 L1651 532.9 L1653 529.7 L1655 526.3 L1657 522.7 L1659 519.1 L1661 515.3 L1663 511.5 L1665 507.6 L1667 503.7 L1669 499.9 L1671 496.1 L1673 492.3 L1675 488.7 L1677 485.2 L1679 481.8 L1681 478.6 L1683 475.6 L1685 472.9 L1687 470.4 L1689 468.2 L1691 466.3 L1693 464.8 L1695 463.5 L1697 462.7 L1699 462.2 L1701 462.2 L1703 462.5 L1705 463.3 L1707 464.6 L1709 466.3 L1711 468.6 L1713 471.3 L1715 474.7 L1717 478.5 L1719 483 L1721 488 L1723 493.6 L1725 499.9 L1727 506.9 L1729 514.5 L1731 522.8 L1733 531.7 L1735 541.3 L1737 551.4 L1739 562 L1741 573 L1743 584.4 L1745 596.2 L1747 608.3 L1749 620.6 L1751 633.1 L1753 645.7 L1755 658.5 L1757 671.3 L1759 684.1 L1761 696.9 L1763 709.6 L1765 722.1 L1767 734.4 L1769 746.5 L1771 758.3 L1773 769.8 L1775 781.1 L1777 792.1 L1779 802.8 L1781 813.2 L1783 823.2 L1785 833 L1787 842.3 L1789 851.4 L1791 860.1 L1793 868.4 L1795 876.3 L1797 883.8 L1799 891 L1801 897.7 L1803 904 L1805 909.9 L1807 915.3 L1809 920.3 L1811 924.8 L1813 928.9 L1815 932.6 L1817 935.8 L1819 938.8 L1821 941.4 L1823 943.6 L1825 945.7 L1827 947.4 L1829 949 L1831 950.3 L1833 951.5 L1835 952.5 L1837 953.4 L1839 954.3 L1841 955 L1843 955.8 L1845 956.5 L1847 957.3 L1849 958.1 L1851 959 L1853 960 L1855 961.1 L1857 962.3 L1859 963.8 L1861 965.4 L1863 967.2 L1865 969.2 L1867 971.5 L1869 974.1 L1871 976.9 L1873 980.1 L1875 983.5 L1877 987.3 L1879 991.5 L1881 996.1 L1883 1001 L1885 1006.4 L1887 1012.2 L1889 1018.5 L1891 1025.3 L1893 1032.6 L1895 1040.3 L1897 1048.5 L1899 1057.2 L1901 1066.2 L1903 1075.6 L1905 1085.4 L1907 1095.6 L1909 1106 L1911 1116.7 L1913 1127.7 L1915 1138.9 L1917 1150.3 L1919 1161.9 L1921 1173.7 L1923 1185.5 L1925 1197.5 L1927 1209.6 L1929 1221.8 L1931 1234 L1933 1246.2 L1935 1258.3 L1937 1270.5 L1939 1282.5 L1941 1294.5 L1943 1306.4 L1945 1318.2 L1947 1329.8 L1949 1341.3 L1951 1352.5 L1953 1363.6 L1955 1374.4 L1957 1384.9 L1959 1395.2 L1961 1405.2 L1963 1414.8 L1965 1424.1 L1967 1433 L1969 1441.6 L1971 1449.7 L1973 1457.4 L1975 1464.6 L1977 1471.4 L1979 1477.6 L1981 1483.4 L1983 1488.7 L1985 1493.6 L1987 1498 L1989 1502 L1991 1505.6 L1993 1508.8 L1995 1511.5 L1997 1513.9 L1999 1516 L2001 1517.6 L2003 1518.9 L2005 1519.9 L2007 1520.6 L2009 1521 L2011 1521 L2013 1520.8 L2015 1520.3 L2017 1519.6 L2019 1518.6 L2021 1517.4 L2023 1516 L2025 1514.5 L2027 1512.9 L2029 1511.2 L2031 1509.4 L2033 1507.5 L2035 1505.7 L2037 1503.9 L2039 1502.1 L2041 1500.4 L2043 1498.8 L2045 1497.3 L2047 1495.9 L2049 1494.8 L2051 1493.8 L2053 1493.1 L2055 1492.7 L2057 1492.5 L2059 1492.6 L2061 1493.1 L2063 1493.9 L2065 1495 L2067 1496.4 L2069 1498.1 L2071 1500.2 L2073 1502.5 L2075 1505.1 L2077 1508 L2079 1511.2 L2081 1514.7 L2083 1518.5 L2085 1522.6 L2087 1526.9 L2089 1531.6 L2091 1536.4 L2093 1541.6 L2095 1547 L2097 1552.7 L2099 1558.7 L2101 1564.9 L2103 1571.3 L2105 1577.9 L2107 1584.7 L2109 1591.6 L2111 1598.6 L2113 1605.6 L2115 1612.7 L2117 1619.7 L2119 1626.7 L2121 1633.5 L2123 1640.3 L2125 1646.8 L2127 1653.2 L2129 1659.3 L2131 1665.2 L2133 1670.7 L2135 1675.9 L2137 1680.7 L2139 1685.1 L2141 1689.1 L2143 1692.6 L2145 1695.6 L2147 1698.2 L2149 1700.3 L2151 1701.9 L2153 1703 L2155 1703.6 L2157 1703.6 L2159 1703.1 L2161 1702.1 L2163 1700.5 L2165 1698.4 L2167 1695.9 L2169 1692.8 L2171 1689.2 L2173 1685.2 L2175 1680.7 L2177 1675.8 L2179 1670.4 L2181 1664.7 L2183 1658.6 L2185 1652.1 L2187 1645.2 L2189 1638 L2191 1630.5 L2193 1622.8 L2195 1614.8 L2197 1606.6 L2199 1598.1 L2201 1589.5 L2203 1580.8 L2205 1571.9 L2207 1562.9 L2209 1553.8 L2211 1544.7 L2213 1535.5 L2215 1526.3 L2217 1517.2 L2219 1508.1 L2221 1499 L2223 1490 L2225 1481.2 L2227 1472.4 L2229 1463.9 L2231 1455.5 L2233 1447.2 L2235 1439.2 L2237 1431.4 L2239 1423.8 L2241 1416.5 L2243 1409.5 L2245 1402.8 L2247 1396.4 L2249 1390.3 L2251 1384.5 L2253 1379.2 L2255 1374.2 L2257 1369.6 L2259 1365.4 L2261 1361.7 L2263 1358.4 L2265 1355.6 L2267 1353.2 L2269 1351.3 L2271 1349.6 L2273 1348.4 L2275 1347.4 L2277 1346.7 L2279 1346.3 L2281 1346.1 L2283 1346 L2285 1346.1 L2287 1346.4 L2289 1346.7 L2291 1347.1 L2293 1347.5 L2295 1347.9 L2297 1348.3 L2299 1348.7 L2301 1348.9 L2303 1349 L2305 1349 L2307 1348.7 L2309 1348.3 L2311 1347.7 L2313 1346.8 L2315 1345.6 L2317 1344.2 L2319 1342.5 L2321 1340.5 L2323 1338.1 L2325 1335.4 L2327 1332.4 L2329 1328.9 L2331 1325.1 L2333 1320.8 L2335 1316 L2337 1310.8 L2339 1305.1 L2341 1299 L2343 1292.2 L2345 1285 L2347 1277.2 L2349 1268.8 L2351 1259.9 L2353 1250.5 L2355 1240.6 L2357 1230.3 L2359 1219.5 L2361 1208.3 L2363 1196.8 L2365 1184.9 L2367 1172.7 L2369 1160.3 L2371 1147.5 L2373 1134.6 L2375 1121.5 L2377 1108.1 L2379 1094.7 L2381 1081.1 L2383 1067.5 L2385 1053.7 L2387 1040" stroke="#0000ff" stroke-width="5.3" stroke-opacity="0.84" fill="none" stroke-linejoin="round"/>
<path d="M308.4 1029.9 h29.2 v29.2 h-29.2 ZM349.7 971.4 h29.2 v29.2 h-29.2 ZM390.9 771.4 h29.2 v29.2 h-29.2 ZM432.4 553.4 h29.2 v29.2 h-29.2 ZM472.4 495.9 h29.2 v29.2 h-29.2 ZM513.9 553.4 h29.2 v29.2 h-29.2 ZM556.4 514.9 h29.2 v29.2 h-29.2 ZM595.9 399.9 h29.2 v29.2 h-29.2 ZM637.9 428.4 h29.2 v29.2 h-29.2 ZM680 624.4 h29.2 v29.2 h-29.2 ZM718.4 771.4 h29.2 v29.2 h-29.2 ZM760.9 796.9 h29.2 v29.2 h-29.2 ZM804.4 868.1 h29.2 v29.2 h-29.2 ZM842.9 1101.7 h29.2 v29.2 h-29.2 ZM885 1330.4 h29.2 v29.2 h-29.2 ZM926.4 1396.4 h29.2 v29.2 h-29.2 ZM965.6 1396.4 h29.2 v29.2 h-29.2 ZM1008.9 1507 h29.2 v29.2 h-29.2 ZM1051.2 1668.4 h29.2 v29.2 h-29.2 ZM1089.9 1672.8 h29.2 v29.2 h-29.2 ZM1132.4 1525.4 h29.2 v29.2 h-29.2 ZM1175.4 1440.7 h29.2 v29.2 h-29.2 ZM1214.4 1462.9 h29.2 v29.2 h-29.2 ZM1256.7 1397 h29.2 v29.2 h-29.2 ZM1299.2 1158.4 h29.2 v29.2 h-29.2 ZM1342 939.4 h29.2 v29.2 h-29.2 ZM1381.4 877.9 h29.2 v29.2 h-29.2 ZM1423.4 835.4 h29.2 v29.2 h-29.2 ZM1465.9 663.2 h29.2 v29.2 h-29.2 ZM1504.4 461.7 h29.2 v29.2 h-29.2 ZM1546.8 428.2 h29.2 v29.2 h-29.2 ZM1589.8 514.6 h29.2 v29.2 h-29.2 ZM1627.9 529.4 h29.2 v29.2 h-29.2 ZM1671.9 456.4 h29.2 v29.2 h-29.2 ZM1714.4 499.9 h29.2 v29.2 h-29.2 ZM1752.4 719.8 h29.2 v29.2 h-29.2 ZM1794.7 906.4 h29.2 v29.2 h-29.2 ZM1836.9 944.6 h29.2 v29.2 h-29.2 ZM1876.6 1011.4 h29.2 v29.2 h-29.2 ZM1918.9 1234.6 h29.2 v29.2 h-29.2 ZM1961.8 1454.8 h29.2 v29.2 h-29.2 ZM2000.1 1505.8 h29.2 v29.2 h-29.2 ZM2042.9 1477.9 h29.2 v29.2 h-29.2 ZM2084.9 1545.6 h29.2 v29.2 h-29.2 ZM2123.4 1668.4 h29.2 v29.2 h-29.2 ZM2166.4 1650.1 h29.2 v29.2 h-29.2 ZM2208.9 1473.2 h29.2 v29.2 h-29.2 ZM2247.9 1344.6 h29.2 v29.2 h-29.2 ZM2289.4 1334.4 h29.2 v29.2 h-29.2 ZM2331.9 1264.6 h29.2 v29.2 h-29.2 ZM2372.4 1025.4 h29.2 v29.2 h-29.2 Z" stroke="#0000ff" stroke-width="11" stroke-opacity="0.3" fill="none" /><path d="M308.4 1029.9 h29.2 v29.2 h-29.2 ZM349.7 971.4 h29.2 v29.2 h-29.2 ZM390.9 771.4 h29.2 v29.2 h-29.2 ZM432.4 553.4 h29.2 v29.2 h-29.2 ZM472.4 495.9 h29.2 v29.2 h-29.2 ZM513.9 553.4 h29.2 v29.2 h-29.2 ZM556.4 514.9 h29.2 v29.2 h-29.2 ZM595.9 399.9 h29.2 v29.2 h-29.2 ZM637.9 428.4 h29.2 v29.2 h-29.2 ZM680 624.4 h29.2 v29.2 h-29.2 ZM718.4 771.4 h29.2 v29.2 h-29.2 ZM760.9 796.9 h29.2 v29.2 h-29.2 ZM804.4 868.1 h29.2 v29.2 h-29.2 ZM842.9 1101.7 h29.2 v29.2 h-29.2 ZM885 1330.4 h29.2 v29.2 h-29.2 ZM926.4 1396.4 h29.2 v29.2 h-29.2 ZM965.6 1396.4 h29.2 v29.2 h-29.2 ZM1008.9 1507 h29.2 v29.2 h-29.2 ZM1051.2 1668.4 h29.2 v29.2 h-29.2 ZM1089.9 1672.8 h29.2 v29.2 h-29.2 ZM1132.4 1525.4 h29.2 v29.2 h-29.2 ZM1175.4 1440.7 h29.2 v29.2 h-29.2 ZM1214.4 1462.9 h29.2 v29.2 h-29.2 ZM1256.7 1397 h29.2 v29.2 h-29.2 ZM1299.2 1158.4 h29.2 v29.2 h-29.2 ZM1342 939.4 h29.2 v29.2 h-29.2 ZM1381.4 877.9 h29.2 v29.2 h-29.2 ZM1423.4 835.4 h29.2 v29.2 h-29.2 ZM1465.9 663.2 h29.2 v29.2 h-29.2 ZM1504.4 461.7 h29.2 v29.2 h-29.2 ZM1546.8 428.2 h29.2 v29.2 h-29.2 ZM1589.8 514.6 h29.2 v29.2 h-29.2 ZM1627.9 529.4 h29.2 v29.2 h-29.2 ZM1671.9 456.4 h29.2 v29.2 h-29.2 ZM1714.4 499.9 h29.2 v29.2 h-29.2 ZM1752.4 719.8 h29.2 v29.2 h-29.2 ZM1794.7 906.4 h29.2 v29.2 h-29.2 ZM1836.9 944.6 h29.2 v29.2 h-29.2 ZM1876.6 1011.4 h29.2 v29.2 h-29.2 ZM1918.9 1234.6 h29.2 v29.2 h-29.2 ZM1961.8 1454.8 h29.2 v29.2 h-29.2 ZM2000.1 1505.8 h29.2 v29.2 h-29.2 ZM2042.9 1477.9 h29.2 v29.2 h-29.2 ZM2084.9 1545.6 h29.2 v29.2 h-29.2 ZM2123.4 1668.4 h29.2 v29.2 h-29.2 ZM2166.4 1650.1 h29.2 v29.2 h-29.2 ZM2208.9 1473.2 h29.2 v29.2 h-29.2 ZM2247.9 1344.6 h29.2 v29.2 h-29.2 ZM2289.4 1334.4 h29.2 v29.2 h-29.2 ZM2331.9 1264.6 h29.2 v29.2 h-29.2 ZM2372.4 1025.4 h29.2 v29.2 h-29.2 Z" stroke="#0000ff" stroke-width="6.2" stroke-opacity="0.84" fill="none" />
<path d="M323 1045 L325 1044.1 L327 1043.1 L329 1041.9 L331 1040.7 L333 1039.3 L335 1037.8 L337 1036.1 L339 1034.1 L341 1032 L343 1029.6 L345 1026.9 L347 1024 L349 1020.7 L351 1017.1 L353 1013.2 L355 1008.9 L357 1004.2 L359 999.1 L361 993.5 L363 987.5 L365 981.1 L367 974.1 L369 966.7 L371 958.9 L373 950.7 L375 942 L377 933 L379 923.6 L381 913.9 L383 903.9 L385 893.6 L387 883 L389 872.2 L391 861.1 L393 849.8 L395 838.3 L397 826.6 L399 814.7 L401 802.7 L403 790.4 L405 778 L407 765.4 L409 752.7 L411 739.8 L413 726.8 L415 713.7 L417 700.5 L419 687.2 L421 673.8 L423 660.3 L425 646.7 L427 633.2 L429 619.7 L431 606.4 L433 593.1 L435 580.1 L437 567.4 L439 555 L441 542.9 L443 531.3 L445 520.1 L447 509.4 L449 499.3 L451 489.7 L453 480.7 L455 472.2 L457 464.3 L459 456.9 L461 450.1 L463 443.8 L465 438.1 L467 433 L469 428.4 L471 424.4 L473 421 L475 418.1 L477 415.8 L479 414.1 L481 413 L483 412.4 L485 412.4 L487 413 L489 414.2 L491 415.8 L493 417.9 L495 420.4 L497 423.3 L499 426.4 L501 429.7 L503 433.2 L505 436.9 L507 440.5 L509 444.2 L511 447.9 L513 451.6 L515 455.2 L517 458.8 L519 462.3 L521 465.8 L523 469.2 L525 472.5 L527 475.7 L529 478.8 L531 481.8 L533 484.6 L535 487.3 L537 489.9 L539 492.3 L541 494.5 L543 496.5 L545 498.3 L547 499.9 L549 501.3 L551 502.5 L553 503.4 L555 504 L557 504.4 L559 504.6 L561 504.4 L563 504 L565 503.2 L567 502.1 L569 500.7 L571 498.9 L573 496.8 L575 494.3 L577 491.5 L579 488.3 L581 484.6 L583 480.6 L585 476.1 L587 471.3 L589 466.2 L591 460.7 L593 455 L595 449.1 L597 443 L599 436.8 L601 430.5 L603 424.1 L605 417.7 L607 411.4 L609 405.2 L611 399.1 L613 393.1 L615 387.4 L617 381.9 L619 376.7 L621 371.8 L623 367.3 L625 363.1 L627 359.5 L629 356.3 L631 353.7 L633 351.6 L635 350.1 L637 349 L639 348.5 L641 348.4 L643 348.8 L645 349.7 L647 351 L649 352.7 L651 354.9 L653 357.5 L655 360.5 L657 363.9 L659 367.7 L661 372 L663 376.6 L665 381.6 L667 387.1 L669 393 L671 399.3 L673 406 L675 413.2 L677 420.8 L679 428.8 L681 437.2 L683 446.1 L685 455.4 L687 465.2 L689 475.3 L691 486 L693 497.1 L695 508.6 L697 520.5 L699 532.8 L701 545.5 L703 558.3 L705 571.4 L707 584.7 L709 598 L711 611.4 L713 624.9 L715 638.2 L717 651.5 L719 664.6 L721 677.5 L723 690.1 L725 702.5 L727 714.6 L729 726.5 L731 738.1 L733 749.3 L735 760.2 L737 770.8 L739 781 L741 790.9 L743 800.4 L745 809.5 L747 818.2 L749 826.4 L751 834.3 L753 841.7 L755 848.6 L757 855 L759 861 L761 866.4 L763 871.4 L765 875.8 L767 879.9 L769 883.5 L771 886.7 L773 889.5 L775 892 L777 894.2 L779 896.1 L781 897.7 L783 899.1 L785 900.2 L787 901.2 L789 902 L791 902.7 L793 903.3 L795 903.8 L797 904.2 L799 904.6 L801 905 L803 905.4 L805 905.9 L807 906.4 L809 907.1 L811 907.9 L813 908.8 L815 909.9 L817 911.2 L819 912.8 L821 914.6 L823 916.7 L825 919.1 L827 921.8 L829 925 L831 928.5 L833 932.4 L835 936.8 L837 941.6 L839 947 L841 952.8 L843 959.3 L845 966.2 L847 973.7 L849 981.7 L851 990.2 L853 999.2 L855 1008.6 L857 1018.4 L859 1028.7 L861 1039.3 L863 1050.2 L865 1061.6 L867 1073.2 L869 1085.1 L871 1097.3 L873 1109.8 L875 1122.5 L877 1135.4 L879 1148.5 L881 1161.8 L883 1175.2 L885 1188.7 L887 1202.4 L889 1216.1 L891 1229.9 L893 1243.7 L895 1257.6 L897 1271.5 L899 1285.3 L901 1299.1 L903 1312.8 L905 1326.5 L907 1340 L909 1353.4 L911 1366.7 L913 1379.8 L915 1392.7 L917 1405.4 L919 1417.9 L921 1430.1 L923 1442 L925 1453.6 L927 1464.9 L929 1475.9 L931 1486.4 L933 1496.6 L935 1506.4 L937 1515.8 L939 1524.7 L941 1533.1 L943 1541 L945 1548.4 L947 1555.2 L949 1561.5 L951 1567.2 L953 1572.3 L955 1576.7 L957 1580.5 L959 1583.7 L961 1586.1 L963 1587.8 L965 1589 L967 1589.5 L969 1589.6 L971 1589.2 L973 1588.4 L975 1587.4 L977 1586 L979 1584.5 L981 1582.8 L983 1581.1 L985 1579.3 L987 1577.5 L989 1575.6 L991 1573.7 L993 1571.8 L995 1570 L997 1568.1 L999 1566.2 L1001 1564.3 L1003 1562.5 L1005 1560.7 L1007 1558.9 L1009 1557.2 L1011 1555.6 L1013 1554 L1015 1552.4 L1017 1551 L1019 1549.6 L1021 1548.4 L1023 1547.2 L1025 1546.1 L1027 1545.2 L1029 1544.5 L1031 1544 L1033 1543.7 L1035 1543.8 L1037 1544.3 L1039 1545.1 L1041 1546.5 L1043 1548.4 L1045 1550.8 L1047 1553.8 L1049 1557.4 L1051 1561.6 L1053 1566.3 L1055 1571.4 L1057 1577.1 L1059 1583.1 L1061 1589.4 L1063 1596.1 L1065 1603 L1067 1610.2 L1069 1617.6 L1071 1625.2 L1073 1632.8 L1075 1640.6 L1077 1648.3 L1079 1656.1 L1081 1663.8 L1083 1671.5 L1085 1679 L1087 1686.4 L1089 1693.6 L1091 1700.7 L1093 1707.6 L1095 1714.3 L1097 1720.7 L1099 1727 L1101 1733 L1103 1738.7 L1105 1744.2 L1107 1749.3 L1109 1754.2 L1111 1758.7 L1113 1762.9 L1115 1766.7 L1117 1770.1 L1119 1773.1 L1121 1775.8 L1123 1778 L1125 1779.7 L1127 1781 L1129 1781.8 L1131 1782.2 L1133 1782 L1135 1781.3 L1137 1780.1 L1139 1778.4 L1141 1776.3 L1143 1773.6 L1145 1770.4 L1147 1766.7 L1149 1762.4 L1151 1757.7 L1153 1752.5 L1155 1746.8 L1157 1740.6 L1159 1734 L1161 1726.8 L1163 1719.1 L1165 1710.9 L1167 1702.2 L1169 1693.1 L1171 1683.4 L1173 1673.4 L1175 1663 L1177 1652.3 L1179 1641.4 L1181 1630.2 L1183 1618.9 L1185 1607.6 L1187 1596.2 L1189 1584.8 L1191 1573.5 L1193 1562.3 L1195 1551.2 L1197 1540.2 L1199 1529.4 L1201 1518.7 L1203 1508.2 L1205 1497.9 L1207 1487.7 L1209 1477.7 L1211 1468 L1213 1458.4 L1215 1449.1 L1217 1439.9 L1219 1431.1 L1221 1422.5 L1223 1414.1 L1225 1406 L1227 1398.2 L1229 1390.7 L1231 1383.5 L1233 1376.6 L1235 1370.1 L1237 1363.9 L1239 1358.1 L1241 1352.6 L1243 1347.6 L1245 1343.1 L1247 1339 L1249 1335.4 L1251 1332.3 L1253 1329.7 L1255 1327.7 L1257 1326.1 L1259 1324.9 L1261 1324.1 L1263 1323.5 L1265 1323.2 L1267 1323 L1269 1322.9 L1271 1322.9 L1273 1322.8 L1275 1322.7 L1277 1322.5 L1279 1322.3 L1281 1322 L1283 1321.5 L1285 1321 L1287 1320.4 L1289 1319.6 L1291 1318.8 L1293 1317.8 L1295 1316.7 L1297 1315.4 L1299 1313.9 L1301 1312.2 L1303 1310.3 L1305 1308.2 L1307 1305.7 L1309 1303 L1311 1300 L1313 1296.6 L1315 1292.8 L1317 1288.7 L1319 1284.1 L1321 1279.1 L1323 1273.7 L1325 1267.8 L1327 1261.4 L1329 1254.4 L1331 1246.9 L1333 1238.9 L1335 1230.3 L1337 1221.1 L1339 1211.5 L1341 1201.3 L1343 1190.8 L1345 1179.7 L1347 1168.3 L1349 1156.5 L1351 1144.3 L1353 1131.7 L1355 1118.9 L1357 1105.8 L1359 1092.4 L1361 1078.8 L1363 1065 L1365 1050.9 L1367 1036.8 L1369 1022.4 L1371 1008 L1373 993.5 L1375 978.9 L1377 964.3 L1379 949.7 L1381 935 L1383 920.5 L1385 905.9 L1387 891.5 L1389 877.2 L1391 863 L1393 848.9 L1395 835.1 L1397 821.4 L1399 808 L1401 794.9 L1403 782 L1405 769.5 L1407 757.2 L1409 745.4 L1411 733.9 L1413 722.8 L1415 712.2 L1417 702 L1419 692.3 L1421 683.1 L1423 674.4 L1425 666.3 L1427 658.8 L1429 651.9 L1431 645.6 L1433 639.8 L1435 634.7 L1437 630 L1439 625.9 L1441 622.2 L1443 619.1 L1445 616.3 L1447 614 L1449 612.1 L1451 610.6 L1453 609.5 L1455 608.6 L1457 608.1 L1459 607.9 L1461 607.9 L1463 608.2 L1465 608.7 L1467 609.4 L1469 610.3 L1471 611.3 L1473 612.4 L1475 613.5 L1477 614.7 L1479 615.9 L1481 617.1 L1483 618.3 L1485 619.3 L1487 620.3 L1489 621 L1491 621.7 L1493 622.1 L1495 622.3 L1497 622.2 L1499 622 L1501 621.4 L1503 620.7 L1505 619.7 L1507 618.4 L1509 616.9 L1511 615.1 L1513 613 L1515 610.7 L1517 608 L1519 605.1 L1521 601.8 L1523 598.3 L1525 594.4 L1527 590.2 L1529 585.7 L1531 580.8 L1533 575.6 L1535 570 L1537 564.1 L1539 557.8 L1541 551.2 L1543 544.2 L1545 536.8 L1547 529 L1549 520.8 L1551 512.2 L1553 503.3 L1555 494.1 L1557 484.6 L1559 474.9 L1561 465 L1563 455.1 L1565 445.1 L1567 435.1 L1569 425.1 L1571 415.3 L1573 405.6 L1575 396.1 L1577 386.9 L1579 378 L1581 369.4 L1583 361.3 L1585 353.6 L1587 346.4 L1589 339.6 L1591 333.3 L1593 327.4 L1595 322 L1597 316.9 L1599 312.3 L1601 308.1 L1603 304.3 L1605 300.9 L1607 297.8 L1609 295.2 L1611 292.9 L1613 290.9 L1615 289.3 L1617 288.1 L1619 287.5 L1621 287.3 L1623 287.8 L1625 289 L1627 290.9 L1629 293.6 L1631 297.2 L1633 301.4 L1635 306.2 L1637 311.6 L1639 317.5 L1641 323.8 L1643 330.3 L1645 337.1 L1647 344.1 L1649 351.2 L1651 358.6 L1653 366.1 L1655 373.8 L1657 381.7 L1659 389.8 L1661 398.1 L1663 406.5 L1665 415.2 L1667 424.1 L1669 433.1 L1671 442.4 L1673 451.9 L1675 461.6 L1677 471.5 L1679 481.5 L1681 491.6 L1683 501.8 L1685 511.9 L1687 522 L1689 531.9 L1691 541.7 L1693 551.3 L1695 560.6 L1697 569.6 L1699 578.2 L1701 586.4 L1703 594.2 L1705 601.4 L1707 608.1 L1709 614.2 L1711 619.7 L1713 624.7 L1715 629.3 L1717 633.3 L1719 636.9 L1721 640 L1723 642.7 L1725 645.1 L1727 647 L1729 648.7 L1731 650 L1733 651 L1735 651.8 L1737 652.3 L1739 652.6 L1741 652.6 L1743 652.5 L1745 652.3 L1747 651.9 L1749 651.4 L1751 650.8 L1753 650.1 L1755 649.4 L1757 648.7 L1759 648 L1761 647.4 L1763 646.8 L1765 646.2 L1767 645.8 L1769 645.4 L1771 645.3 L1773 645.3 L1775 645.5 L1777 645.9 L1779 646.5 L1781 647.4 L1783 648.6 L1785 650.1 L1787 651.9 L1789 654.1 L1791 656.7 L1793 659.6 L1795 663 L1797 666.8 L1799 671.1 L1801 675.9 L1803 681.2 L1805 686.9 L1807 693.2 L1809 699.8 L1811 706.9 L1813 714.5 L1815 722.5 L1817 730.9 L1819 739.7 L1821 748.9 L1823 758.6 L1825 768.6 L1827 778.9 L1829 789.7 L1831 800.8 L1833 812.3 L1835 824.1 L1837 836.2 L1839 848.7 L1841 861.4 L1843 874.5 L1845 887.9 L1847 901.5 L1849 915.5 L1851 929.7 L1853 944.2 L1855 958.9 L1857 973.8 L1859 988.8 L1861 1004 L1863 1019.3 L1865 1034.6 L1867 1049.9 L1869 1065.1 L1871 1080.3 L1873 1095.4 L1875 1110.3 L1877 1125.1 L1879 1139.6 L1881 1153.8 L1883 1167.8 L1885 1181.4 L1887 1194.6 L1889 1207.5 L1891 1219.8 L1893 1231.7 L1895 1243.1 L1897 1253.8 L1899 1264 L1901 1273.6 L1903 1282.4 L1905 1290.7 L1907 1298.3 L1909 1305.4 L1911 1311.9 L1913 1317.8 L1915 1323.3 L1917 1328.2 L1919 1332.7 L1921 1336.7 L1923 1340.4 L1925 1343.6 L1927 1346.5 L1929 1349 L1931 1351.2 L1933 1353.1 L1935 1354.8 L1937 1356.2 L1939 1357.4 L1941 1358.3 L1943 1359.1 L1945 1359.8 L1947 1360.3 L1949 1360.8 L1951 1361.2 L1953 1361.5 L1955 1361.8 L1957 1362 L1959 1362.3 L1961 1362.7 L1963 1363.1 L1965 1363.6 L1967 1364.2 L1969 1364.8 L1971 1365.6 L1973 1366.6 L1975 1367.6 L1977 1368.8 L1979 1370.2 L1981 1371.8 L1983 1373.6 L1985 1375.5 L1987 1377.7 L1989 1380.2 L1991 1382.8 L1993 1385.8 L1995 1389 L1997 1392.6 L1999 1396.4 L2001 1400.5 L2003 1405 L2005 1409.8 L2007 1415 L2009 1420.6 L2011 1426.5 L2013 1432.9 L2015 1439.6 L2017 1446.8 L2019 1454.4 L2021 1462.4 L2023 1470.8 L2025 1479.6 L2027 1488.6 L2029 1498 L2031 1507.6 L2033 1517.5 L2035 1527.6 L2037 1538 L2039 1548.5 L2041 1559.1 L2043 1569.9 L2045 1580.8 L2047 1591.8 L2049 1602.8 L2051 1613.9 L2053 1625 L2055 1636.1 L2057 1647.1 L2059 1658.1 L2061 1668.9 L2063 1679.7 L2065 1690.2 L2067 1700.4 L2069 1710.3 L2071 1719.9 L2073 1729.1 L2075 1737.7 L2077 1745.9 L2079 1753.5 L2081 1760.5 L2083 1766.8 L2085 1772.4 L2087 1777.4 L2089 1781.7 L2091 1785.4 L2093 1788.5 L2095 1791 L2097 1792.9 L2099 1794.2 L2101 1795 L2103 1795.2 L2105 1794.9 L2107 1794.1 L2109 1792.7 L2111 1790.9 L2113 1788.5 L2115 1785.7 L2117 1782.5 L2119 1778.8 L2121 1774.7 L2123 1770.1 L2125 1765.2 L2127 1759.9 L2129 1754.1 L2131 1748.1 L2133 1741.6 L2135 1734.9 L2137 1727.9 L2139 1720.6 L2141 1713.1 L2143 1705.5 L2145 1697.6 L2147 1689.7 L2149 1681.6 L2151 1673.5 L2153 1665.3 L2155 1657.2 L2157 1649 L2159 1641 L2161 1633 L2163 1625.1 L2165 1617.4 L2167 1609.8 L2169 1602.4 L2171 1595.3 L2173 1588.5 L2175 1582 L2177 1575.8 L2179 1569.9 L2181 1564.5 L2183 1559.4 L2185 1554.8 L2187 1550.5 L2189 1546.7 L2191 1543.1 L2193 1540 L2195 1537.2 L2197 1534.7 L2199 1532.5 L2201 1530.6 L2203 1529.1 L2205 1527.8 L2207 1526.8 L2209 1526 L2211 1525.5 L2213 1525.2 L2215 1525.1 L2217 1525.3 L2219 1525.6 L2221 1526.2 L2223 1526.9 L2225 1527.8 L2227 1528.8 L2229 1529.9 L2231 1531.2 L2233 1532.6 L2235 1534.1 L2237 1535.8 L2239 1537.4 L2241 1539.2 L2243 1541 L2245 1542.8 L2247 1544.7 L2249 1546.5 L2251 1548.2 L2253 1549.9 L2255 1551.3 L2257 1552.6 L2259 1553.7 L2261 1554.6 L2263 1555.1 L2265 1555.4 L2267 1555.2 L2269 1554.7 L2271 1553.8 L2273 1552.3 L2275 1550.4 L2277 1547.9 L2279 1544.9 L2281 1541.2 L2283 1536.9 L2285 1531.9 L2287 1526.3 L2289 1520.1 L2291 1513.4 L2293 1506.1 L2295 1498.2 L2297 1489.8 L2299 1481 L2301 1471.7 L2303 1461.9 L2305 1451.7 L2307 1441.1 L2309 1430.1 L2311 1418.8 L2313 1407.1 L2315 1395.1 L2317 1382.8 L2319 1370.3 L2321 1357.5 L2323 1344.5 L2325 1331.3 L2327 1317.9 L2329 1304.3 L2331 1290.6 L2333 1276.8 L2335 1262.9 L2337 1249 L2339 1234.9 L2341 1220.9 L2343 1206.9 L2345 1192.9 L2347 1178.9 L2349 1165 L2351 1151.1 L2353 1137.4 L2355 1123.8 L2357 1110.4 L2359 1097.1 L2361 1084.1 L2363 1071.2 L2365 1058.6 L2367 1046.3 L2369 1034.2 L2371 1022.5 L2373 1011 L2375 1000 L2377 989.3 L2379 979 L2381 969.1 L2383 959.7 L2385 950.7 L2387 942.2" stroke="#ff0000" stroke-width="10.4" stroke-opacity="0.3" fill="none" stroke-linejoin="round"/><path d="M323 1045 L325 1044.1 L327 1043.1 L329 1041.9 L331 1040.7 L333 1039.3 L335 1037.8 L337 1036.1 L339 1034.1 L341 1032 L343 1029.6 L345 1026.9 L347 1024 L349 1020.7 L351 1017.1 L353 1013.2 L355 1008.9 L357 1004.2 L359 999.1 L361 993.5 L363 987.5 L365 981.1 L367 974.1 L369 966.7 L371 958.9 L373 950.7 L375 942 L377 933 L379 923.6 L381 913.9 L383 903.9 L385 893.6 L387 883 L389 872.2 L391 861.1 L393 849.8 L395 838.3 L397 826.6 L399 814.7 L401 802.7 L403 790.4 L405 778 L407 765.4 L409 752.7 L411 739.8 L413 726.8 L415 713.7 L417 700.5 L419 687.2 L421 673.8 L423 660.3 L425 646.7 L427 633.2 L429 619.7 L431 606.4 L433 593.1 L435 580.1 L437 567.4 L439 555 L441 542.9 L443 531.3 L445 520.1 L447 509.4 L449 499.3 L451 489.7 L453 480.7 L455 472.2 L457 464.3 L459 456.9 L461 450.1 L463 443.8 L465 438.1 L467 433 L469 428.4 L471 424.4 L473 421 L475 418.1 L477 415.8 L479 414.1 L481 413 L483 412.4 L485 412.4 L487 413 L489 414.2 L491 415.8 L493 417.9 L495 420.4 L497 423.3 L499 426.4 L501 429.7 L503 433.2 L505 436.9 L507 440.5 L509 444.2 L511 447.9 L513 451.6 L515 455.2 L517 458.8 L519 462.3 L521 465.8 L523 469.2 L525 472.5 L527 475.7 L529 478.8 L531 481.8 L533 484.6 L535 487.3 L537 489.9 L539 492.3 L541 494.5 L543 496.5 L545 498.3 L547 499.9 L549 501.3 L551 502.5 L553 503.4 L555 504 L557 504.4 L559 504.6 L561 504.4 L563 504 L565 503.2 L567 502.1 L569 500.7 L571 498.9 L573 496.8 L575 494.3 L577 491.5 L579 488.3 L581 484.6 L583 480.6 L585 476.1 L587 471.3 L589 466.2 L591 460.7 L593 455 L595 449.1 L597 443 L599 436.8 L601 430.5 L603 424.1 L605 417.7 L607 411.4 L609 405.2 L611 399.1 L613 393.1 L615 387.4 L617 381.9 L619 376.7 L621 371.8 L623 367.3 L625 363.1 L627 359.5 L629 356.3 L631 353.7 L633 351.6 L635 350.1 L637 349 L639 348.5 L641 348.4 L643 348.8 L645 349.7 L647 351 L649 352.7 L651 354.9 L653 357.5 L655 360.5 L657 363.9 L659 367.7 L661 372 L663 376.6 L665 381.6 L667 387.1 L669 393 L671 399.3 L673 406 L675 413.2 L677 420.8 L679 428.8 L681 437.2 L683 446.1 L685 455.4 L687 465.2 L689 475.3 L691 486 L693 497.1 L695 508.6 L697 520.5 L699 532.8 L701 545.5 L703 558.3 L705 571.4 L707 584.7 L709 598 L711 611.4 L713 624.9 L715 638.2 L717 651.5 L719 664.6 L721 677.5 L723 690.1 L725 702.5 L727 714.6 L729 726.5 L731 738.1 L733 749.3 L735 760.2 L737 770.8 L739 781 L741 790.9 L743 800.4 L745 809.5 L747 818.2 L749 826.4 L751 834.3 L753 841.7 L755 848.6 L757 855 L759 861 L761 866.4 L763 871.4 L765 875.8 L767 879.9 L769 883.5 L771 886.7 L773 889.5 L775 892 L777 894.2 L779 896.1 L781 897.7 L783 899.1 L785 900.2 L787 901.2 L789 902 L791 902.7 L793 903.3 L795 903.8 L797 904.2 L799 904.6 L801 905 L803 905.4 L805 905.9 L807 906.4 L809 907.1 L811 907.9 L813 908.8 L815 909.9 L817 911.2 L819 912.8 L821 914.6 L823 916.7 L825 919.1 L827 921.8 L829 925 L831 928.5 L833 932.4 L835 936.8 L837 941.6 L839 947 L841 952.8 L843 959.3 L845 966.2 L847 973.7 L849 981.7 L851 990.2 L853 999.2 L855 1008.6 L857 1018.4 L859 1028.7 L861 1039.3 L863 1050.2 L865 1061.6 L867 1073.2 L869 1085.1 L871 1097.3 L873 1109.8 L875 1122.5 L877 1135.4 L879 1148.5 L881 1161.8 L883 1175.2 L885 1188.7 L887 1202.4 L889 1216.1 L891 1229.9 L893 1243.7 L895 1257.6 L897 1271.5 L899 1285.3 L901 1299.1 L903 1312.8 L905 1326.5 L907 1340 L909 1353.4 L911 1366.7 L913 1379.8 L915 1392.7 L917 1405.4 L919 1417.9 L921 1430.1 L923 1442 L925 1453.6 L927 1464.9 L929 1475.9 L931 1486.4 L933 1496.6 L935 1506.4 L937 1515.8 L939 1524.7 L941 1533.1 L943 1541 L945 1548.4 L947 1555.2 L949 1561.5 L951 1567.2 L953 1572.3 L955 1576.7 L957 1580.5 L959 1583.7 L961 1586.1 L963 1587.8 L965 1589 L967 1589.5 L969 1589.6 L971 1589.2 L973 1588.4 L975 1587.4 L977 1586 L979 1584.5 L981 1582.8 L983 1581.1 L985 1579.3 L987 1577.5 L989 1575.6 L991 1573.7 L993 1571.8 L995 1570 L997 1568.1 L999 1566.2 L1001 1564.3 L1003 1562.5 L1005 1560.7 L1007 1558.9 L1009 1557.2 L1011 1555.6 L1013 1554 L1015 1552.4 L1017 1551 L1019 1549.6 L1021 1548.4 L1023 1547.2 L1025 1546.1 L1027 1545.2 L1029 1544.5 L1031 1544 L1033 1543.7 L1035 1543.8 L1037 1544.3 L1039 1545.1 L1041 1546.5 L1043 1548.4 L1045 1550.8 L1047 1553.8 L1049 1557.4 L1051 1561.6 L1053 1566.3 L1055 1571.4 L1057 1577.1 L1059 1583.1 L1061 1589.4 L1063 1596.1 L1065 1603 L1067 1610.2 L1069 1617.6 L1071 1625.2 L1073 1632.8 L1075 1640.6 L1077 1648.3 L1079 1656.1 L1081 1663.8 L1083 1671.5 L1085 1679 L1087 1686.4 L1089 1693.6 L1091 1700.7 L1093 1707.6 L1095 1714.3 L1097 1720.7 L1099 1727 L1101 1733 L1103 1738.7 L1105 1744.2 L1107 1749.3 L1109 1754.2 L1111 1758.7 L1113 1762.9 L1115 1766.7 L1117 1770.1 L1119 1773.1 L1121 1775.8 L1123 1778 L1125 1779.7 L1127 1781 L1129 1781.8 L1131 1782.2 L1133 1782 L1135 1781.3 L1137 1780.1 L1139 1778.4 L1141 1776.3 L1143 1773.6 L1145 1770.4 L1147 1766.7 L1149 1762.4 L1151 1757.7 L1153 1752.5 L1155 1746.8 L1157 1740.6 L1159 1734 L1161 1726.8 L1163 1719.1 L1165 1710.9 L1167 1702.2 L1169 1693.1 L1171 1683.4 L1173 1673.4 L1175 1663 L1177 1652.3 L1179 1641.4 L1181 1630.2 L1183 1618.9 L1185 1607.6 L1187 1596.2 L1189 1584.8 L1191 1573.5 L1193 1562.3 L1195 1551.2 L1197 1540.2 L1199 1529.4 L1201 1518.7 L1203 1508.2 L1205 1497.9 L1207 1487.7 L1209 1477.7 L1211 1468 L1213 1458.4 L1215 1449.1 L1217 1439.9 L1219 1431.1 L1221 1422.5 L1223 1414.1 L1225 1406 L1227 1398.2 L1229 1390.7 L1231 1383.5 L1233 1376.6 L1235 1370.1 L1237 1363.9 L1239 1358.1 L1241 1352.6 L1243 1347.6 L1245 1343.1 L1247 1339 L1249 1335.4 L1251 1332.3 L1253 1329.7 L1255 1327.7 L1257 1326.1 L1259 1324.9 L1261 1324.1 L1263 1323.5 L1265 1323.2 L1267 1323 L1269 1322.9 L1271 1322.9 L1273 1322.8 L1275 1322.7 L1277 1322.5 L1279 1322.3 L1281 1322 L1283 1321.5 L1285 1321 L1287 1320.4 L1289 1319.6 L1291 1318.8 L1293 1317.8 L1295 1316.7 L1297 1315.4 L1299 1313.9 L1301 1312.2 L1303 1310.3 L1305 1308.2 L1307 1305.7 L1309 1303 L1311 1300 L1313 1296.6 L1315 1292.8 L1317 1288.7 L1319 1284.1 L1321 1279.1 L1323 1273.7 L1325 1267.8 L1327 1261.4 L1329 1254.4 L1331 1246.9 L1333 1238.9 L1335 1230.3 L1337 1221.1 L1339 1211.5 L1341 1201.3 L1343 1190.8 L1345 1179.7 L1347 1168.3 L1349 1156.5 L1351 1144.3 L1353 1131.7 L1355 1118.9 L1357 1105.8 L1359 1092.4 L1361 1078.8 L1363 1065 L1365 1050.9 L1367 1036.8 L1369 1022.4 L1371 1008 L1373 993.5 L1375 978.9 L1377 964.3 L1379 949.7 L1381 935 L1383 920.5 L1385 905.9 L1387 891.5 L1389 877.2 L1391 863 L1393 848.9 L1395 835.1 L1397 821.4 L1399 808 L1401 794.9 L1403 782 L1405 769.5 L1407 757.2 L1409 745.4 L1411 733.9 L1413 722.8 L1415 712.2 L1417 702 L1419 692.3 L1421 683.1 L1423 674.4 L1425 666.3 L1427 658.8 L1429 651.9 L1431 645.6 L1433 639.8 L1435 634.7 L1437 630 L1439 625.9 L1441 622.2 L1443 619.1 L1445 616.3 L1447 614 L1449 612.1 L1451 610.6 L1453 609.5 L1455 608.6 L1457 608.1 L1459 607.9 L1461 607.9 L1463 608.2 L1465 608.7 L1467 609.4 L1469 610.3 L1471 611.3 L1473 612.4 L1475 613.5 L1477 614.7 L1479 615.9 L1481 617.1 L1483 618.3 L1485 619.3 L1487 620.3 L1489 621 L1491 621.7 L1493 622.1 L1495 622.3 L1497 622.2 L1499 622 L1501 621.4 L1503 620.7 L1505 619.7 L1507 618.4 L1509 616.9 L1511 615.1 L1513 613 L1515 610.7 L1517 608 L1519 605.1 L1521 601.8 L1523 598.3 L1525 594.4 L1527 590.2 L1529 585.7 L1531 580.8 L1533 575.6 L1535 570 L1537 564.1 L1539 557.8 L1541 551.2 L1543 544.2 L1545 536.8 L1547 529 L1549 520.8 L1551 512.2 L1553 503.3 L1555 494.1 L1557 484.6 L1559 474.9 L1561 465 L1563 455.1 L1565 445.1 L1567 435.1 L1569 425.1 L1571 415.3 L1573 405.6 L1575 396.1 L1577 386.9 L1579 378 L1581 369.4 L1583 361.3 L1585 353.6 L1587 346.4 L1589 339.6 L1591 333.3 L1593 327.4 L1595 322 L1597 316.9 L1599 312.3 L1601 308.1 L1603 304.3 L1605 300.9 L1607 297.8 L1609 295.2 L1611 292.9 L1613 290.9 L1615 289.3 L1617 288.1 L1619 287.5 L1621 287.3 L1623 287.8 L1625 289 L1627 290.9 L1629 293.6 L1631 297.2 L1633 301.4 L1635 306.2 L1637 311.6 L1639 317.5 L1641 323.8 L1643 330.3 L1645 337.1 L1647 344.1 L1649 351.2 L1651 358.6 L1653 366.1 L1655 373.8 L1657 381.7 L1659 389.8 L1661 398.1 L1663 406.5 L1665 415.2 L1667 424.1 L1669 433.1 L1671 442.4 L1673 451.9 L1675 461.6 L1677 471.5 L1679 481.5 L1681 491.6 L1683 501.8 L1685 511.9 L1687 522 L1689 531.9 L1691 541.7 L1693 551.3 L1695 560.6 L1697 569.6 L1699 578.2 L1701 586.4 L1703 594.2 L1705 601.4 L1707 608.1 L1709 614.2 L1711 619.7 L1713 624.7 L1715 629.3 L1717 633.3 L1719 636.9 L1721 640 L1723 642.7 L1725 645.1 L1727 647 L1729 648.7 L1731 650 L1733 651 L1735 651.8 L1737 652.3 L1739 652.6 L1741 652.6 L1743 652.5 L1745 652.3 L1747 651.9 L1749 651.4 L1751 650.8 L1753 650.1 L1755 649.4 L1757 648.7 L1759 648 L1761 647.4 L1763 646.8 L1765 646.2 L1767 645.8 L1769 645.4 L1771 645.3 L1773 645.3 L1775 645.5 L1777 645.9 L1779 646.5 L1781 647.4 L1783 648.6 L1785 650.1 L1787 651.9 L1789 654.1 L1791 656.7 L1793 659.6 L1795 663 L1797 666.8 L1799 671.1 L1801 675.9 L1803 681.2 L1805 686.9 L1807 693.2 L1809 699.8 L1811 706.9 L1813 714.5 L1815 722.5 L1817 730.9 L1819 739.7 L1821 748.9 L1823 758.6 L1825 768.6 L1827 778.9 L1829 789.7 L1831 800.8 L1833 812.3 L1835 824.1 L1837 836.2 L1839 848.7 L1841 861.4 L1843 874.5 L1845 887.9 L1847 901.5 L1849 915.5 L1851 929.7 L1853 944.2 L1855 958.9 L1857 973.8 L1859 988.8 L1861 1004 L1863 1019.3 L1865 1034.6 L1867 1049.9 L1869 1065.1 L1871 1080.3 L1873 1095.4 L1875 1110.3 L1877 1125.1 L1879 1139.6 L1881 1153.8 L1883 1167.8 L1885 1181.4 L1887 1194.6 L1889 1207.5 L1891 1219.8 L1893 1231.7 L1895 1243.1 L1897 1253.8 L1899 1264 L1901 1273.6 L1903 1282.4 L1905 1290.7 L1907 1298.3 L1909 1305.4 L1911 1311.9 L1913 1317.8 L1915 1323.3 L1917 1328.2 L1919 1332.7 L1921 1336.7 L1923 1340.4 L1925 1343.6 L1927 1346.5 L1929 1349 L1931 1351.2 L1933 1353.1 L1935 1354.8 L1937 1356.2 L1939 1357.4 L1941 1358.3 L1943 1359.1 L1945 1359.8 L1947 1360.3 L1949 1360.8 L1951 1361.2 L1953 1361.5 L1955 1361.8 L1957 1362 L1959 1362.3 L1961 1362.7 L1963 1363.1 L1965 1363.6 L1967 1364.2 L1969 1364.8 L1971 1365.6 L1973 1366.6 L1975 1367.6 L1977 1368.8 L1979 1370.2 L1981 1371.8 L1983 1373.6 L1985 1375.5 L1987 1377.7 L1989 1380.2 L1991 1382.8 L1993 1385.8 L1995 1389 L1997 1392.6 L1999 1396.4 L2001 1400.5 L2003 1405 L2005 1409.8 L2007 1415 L2009 1420.6 L2011 1426.5 L2013 1432.9 L2015 1439.6 L2017 1446.8 L2019 1454.4 L2021 1462.4 L2023 1470.8 L2025 1479.6 L2027 1488.6 L2029 1498 L2031 1507.6 L2033 1517.5 L2035 1527.6 L2037 1538 L2039 1548.5 L2041 1559.1 L2043 1569.9 L2045 1580.8 L2047 1591.8 L2049 1602.8 L2051 1613.9 L2053 1625 L2055 1636.1 L2057 1647.1 L2059 1658.1 L2061 1668.9 L2063 1679.7 L2065 1690.2 L2067 1700.4 L2069 1710.3 L2071 1719.9 L2073 1729.1 L2075 1737.7 L2077 1745.9 L2079 1753.5 L2081 1760.5 L2083 1766.8 L2085 1772.4 L2087 1777.4 L2089 1781.7 L2091 1785.4 L2093 1788.5 L2095 1791 L2097 1792.9 L2099 1794.2 L2101 1795 L2103 1795.2 L2105 1794.9 L2107 1794.1 L2109 1792.7 L2111 1790.9 L2113 1788.5 L2115 1785.7 L2117 1782.5 L2119 1778.8 L2121 1774.7 L2123 1770.1 L2125 1765.2 L2127 1759.9 L2129 1754.1 L2131 1748.1 L2133 1741.6 L2135 1734.9 L2137 1727.9 L2139 1720.6 L2141 1713.1 L2143 1705.5 L2145 1697.6 L2147 1689.7 L2149 1681.6 L2151 1673.5 L2153 1665.3 L2155 1657.2 L2157 1649 L2159 1641 L2161 1633 L2163 1625.1 L2165 1617.4 L2167 1609.8 L2169 1602.4 L2171 1595.3 L2173 1588.5 L2175 1582 L2177 1575.8 L2179 1569.9 L2181 1564.5 L2183 1559.4 L2185 1554.8 L2187 1550.5 L2189 1546.7 L2191 1543.1 L2193 1540 L2195 1537.2 L2197 1534.7 L2199 1532.5 L2201 1530.6 L2203 1529.1 L2205 1527.8 L2207 1526.8 L2209 1526 L2211 1525.5 L2213 1525.2 L2215 1525.1 L2217 1525.3 L2219 1525.6 L2221 1526.2 L2223 1526.9 L2225 1527.8 L2227 1528.8 L2229 1529.9 L2231 1531.2 L2233 1532.6 L2235 1534.1 L2237 1535.8 L2239 1537.4 L2241 1539.2 L2243 1541 L2245 1542.8 L2247 1544.7 L2249 1546.5 L2251 1548.2 L2253 1549.9 L2255 1551.3 L2257 1552.6 L2259 1553.7 L2261 1554.6 L2263 1555.1 L2265 1555.4 L2267 1555.2 L2269 1554.7 L2271 1553.8 L2273 1552.3 L2275 1550.4 L2277 1547.9 L2279 1544.9 L2281 1541.2 L2283 1536.9 L2285 1531.9 L2287 1526.3 L2289 1520.1 L2291 1513.4 L2293 1506.1 L2295 1498.2 L2297 1489.8 L2299 1481 L2301 1471.7 L2303 1461.9 L2305 1451.7 L2307 1441.1 L2309 1430.1 L2311 1418.8 L2313 1407.1 L2315 1395.1 L2317 1382.8 L2319 1370.3 L2321 1357.5 L2323 1344.5 L2325 1331.3 L2327 1317.9 L2329 1304.3 L2331 1290.6 L2333 1276.8 L2335 1262.9 L2337 1249 L2339 1234.9 L2341 1220.9 L2343 1206.9 L2345 1192.9 L2347 1178.9 L2349 1165 L2351 1151.1 L2353 1137.4 L2355 1123.8 L2357 1110.4 L2359 1097.1 L2361 1084.1 L2363 1071.2 L2365 1058.6 L2367 1046.3 L2369 1034.2 L2371 1022.5 L2373 1011 L2375 1000 L2377 989.3 L2379 979 L2381 969.1 L2383 959.7 L2385 950.7 L2387 942.2" stroke="#ff0000" stroke-width="5.3" stroke-opacity="0.84" fill="none" stroke-linejoin="round"/>
<path d="M323 1019.3 L343 1057.8 L303 1057.8 ZM364.3 959.3 L384.3 997.8 L344.3 997.8 ZM405.5 756.3 L425.5 794.8 L385.5 794.8 ZM446 490.3 L466 528.8 L426 528.8 ZM486 387.6 L506 426.1 L466 426.1 ZM528 451.8 L548 490.3 L508 490.3 ZM569.5 474.8 L589.5 513.3 L549.5 513.3 ZM610 375.8 L630 414.3 L590 414.3 ZM652.5 331.3 L672.5 369.8 L632.5 369.8 ZM693.8 476.8 L713.8 515.3 L673.8 515.3 ZM733 724.3 L753 762.8 L713 762.8 ZM775.3 867.3 L795.3 905.8 L755.3 905.8 ZM817.5 885.8 L837.5 924.3 L797.5 924.3 ZM858.3 999.8 L878.3 1038.3 L838.3 1038.3 ZM900 1268.3 L920 1306.8 L880 1306.8 ZM940.5 1504.3 L960.5 1542.8 L920.5 1542.8 ZM982 1556.3 L1002 1594.8 L962 1594.8 ZM1024 1522.3 L1044 1560.8 L1004 1560.8 ZM1065.3 1577.8 L1085.3 1616.3 L1045.3 1616.3 ZM1105.6 1721.3 L1125.6 1759.8 L1085.6 1759.8 ZM1148 1740.3 L1168 1778.8 L1128 1778.8 ZM1190 1553.3 L1210 1591.8 L1170 1591.8 ZM1231 1358.8 L1251 1397.3 L1211 1397.3 ZM1272 1297.8 L1292 1336.3 L1252 1336.3 ZM1314 1268.8 L1334 1307.3 L1294 1307.3 ZM1355 1096.8 L1375 1135.3 L1335 1135.3 ZM1395.5 804.8 L1415.5 843.3 L1375.5 843.3 ZM1437.6 605.3 L1457.6 643.8 L1417.6 643.8 ZM1478 591.3 L1498 629.8 L1458 629.8 ZM1520 580.3 L1540 618.8 L1500 618.8 ZM1562 429.3 L1582 467.8 L1542 467.8 ZM1602.5 281.8 L1622.5 320.3 L1582.5 320.3 ZM1644.5 310.8 L1664.5 349.3 L1624.5 349.3 ZM1686 488.8 L1706 527.3 L1666 527.3 ZM1727 621.3 L1747 659.8 L1707 659.8 ZM1768 620.3 L1788 658.8 L1748 658.8 ZM1809 672.3 L1829 710.8 L1789 710.8 ZM1851.5 911.3 L1871.5 949.8 L1831.5 949.8 ZM1891 1194.3 L1911 1232.8 L1871 1232.8 ZM1932.5 1326.3 L1952.5 1364.8 L1912.5 1364.8 ZM1975 1341.8 L1995 1380.3 L1955 1380.3 ZM2016 1421.3 L2036 1459.8 L1996 1459.8 ZM2058 1625 L2078 1663.5 L2038 1663.5 ZM2098.6 1768.8 L2118.6 1807.3 L2078.6 1807.3 ZM2140 1690.8 L2160 1729.3 L2120 1729.3 ZM2180.5 1541.3 L2200.5 1579.8 L2160.5 1579.8 ZM2222 1501.3 L2242 1539.8 L2202 1539.8 ZM2263.5 1530.3 L2283.5 1568.8 L2243.5 1568.8 ZM2305 1426.3 L2325 1464.8 L2285 1464.8 ZM2346 1159.3 L2366 1197.8 L2326 1197.8 ZM2388 911.8 L2408 950.3 L2368 950.3 Z" stroke="#ff0000" stroke-width="11" stroke-opacity="0.3" fill="none" stroke-linejoin="miter"/><path d="M323 1019.3 L343 1057.8 L303 1057.8 ZM364.3 959.3 L384.3 997.8 L344.3 997.8 ZM405.5 756.3 L425.5 794.8 L385.5 794.8 ZM446 490.3 L466 528.8 L426 528.8 ZM486 387.6 L506 426.1 L466 426.1 ZM528 451.8 L548 490.3 L508 490.3 ZM569.5 474.8 L589.5 513.3 L549.5 513.3 ZM610 375.8 L630 414.3 L590 414.3 ZM652.5 331.3 L672.5 369.8 L632.5 369.8 ZM693.8 476.8 L713.8 515.3 L673.8 515.3 ZM733 724.3 L753 762.8 L713 762.8 ZM775.3 867.3 L795.3 905.8 L755.3 905.8 ZM817.5 885.8 L837.5 924.3 L797.5 924.3 ZM858.3 999.8 L878.3 1038.3 L838.3 1038.3 ZM900 1268.3 L920 1306.8 L880 1306.8 ZM940.5 1504.3 L960.5 1542.8 L920.5 1542.8 ZM982 1556.3 L1002 1594.8 L962 1594.8 ZM1024 1522.3 L1044 1560.8 L1004 1560.8 ZM1065.3 1577.8 L1085.3 1616.3 L1045.3 1616.3 ZM1105.6 1721.3 L1125.6 1759.8 L1085.6 1759.8 ZM1148 1740.3 L1168 1778.8 L1128 1778.8 ZM1190 1553.3 L1210 1591.8 L1170 1591.8 ZM1231 1358.8 L1251 1397.3 L1211 1397.3 ZM1272 1297.8 L1292 1336.3 L1252 1336.3 ZM1314 1268.8 L1334 1307.3 L1294 1307.3 ZM1355 1096.8 L1375 1135.3 L1335 1135.3 ZM1395.5 804.8 L1415.5 843.3 L1375.5 843.3 ZM1437.6 605.3 L1457.6 643.8 L1417.6 643.8 ZM1478 591.3 L1498 629.8 L1458 629.8 ZM1520 580.3 L1540 618.8 L1500 618.8 ZM1562 429.3 L1582 467.8 L1542 467.8 ZM1602.5 281.8 L1622.5 320.3 L1582.5 320.3 ZM1644.5 310.8 L1664.5 349.3 L1624.5 349.3 ZM1686 488.8 L1706 527.3 L1666 527.3 ZM1727 621.3 L1747 659.8 L1707 659.8 ZM1768 620.3 L1788 658.8 L1748 658.8 ZM1809 672.3 L1829 710.8 L1789 710.8 ZM1851.5 911.3 L1871.5 949.8 L1831.5 949.8 ZM1891 1194.3 L1911 1232.8 L1871 1232.8 ZM1932.5 1326.3 L1952.5 1364.8 L1912.5 1364.8 ZM1975 1341.8 L1995 1380.3 L1955 1380.3 ZM2016 1421.3 L2036 1459.8 L1996 1459.8 ZM2058 1625 L2078 1663.5 L2038 1663.5 ZM2098.6 1768.8 L2118.6 1807.3 L2078.6 1807.3 ZM2140 1690.8 L2160 1729.3 L2120 1729.3 ZM2180.5 1541.3 L2200.5 1579.8 L2160.5 1579.8 ZM2222 1501.3 L2242 1539.8 L2202 1539.8 ZM2263.5 1530.3 L2283.5 1568.8 L2243.5 1568.8 ZM2305 1426.3 L2325 1464.8 L2285 1464.8 ZM2346 1159.3 L2366 1197.8 L2326 1197.8 ZM2388 911.8 L2408 950.3 L2368 950.3 Z" stroke="#ff0000" stroke-width="6.2" stroke-opacity="0.84" fill="none" stroke-linejoin="miter"/>
<path d="M323 1045 L325 1044.1 L327 1043.1 L329 1041.9 L331 1040.7 L333 1039.3 L335 1037.8 L337 1036.1 L339 1034.1 L341 1032 L343 1029.6 L345 1026.9 L347 1024 L349 1020.7 L351 1017.1 L353 1013.2 L355 1008.9 L357 1004.2 L359 999.1 L361 993.5 L363 987.5 L365 981.1 L367 974.1 L369 966.7 L371 958.9 L373 950.7 L375 942 L377 933 L379 923.6 L381 913.9 L383 903.9 L385 893.6 L387 883 L389 872.2 L391 861.1 L393 849.8 L395 838.3 L397 826.6 L399 814.7 L401 802.7 L403 790.4 L405 778 L407 765.4 L409 752.7 L411 739.8 L413 726.8 L415 713.7 L417 700.5 L419 687.2 L421 673.8 L423 660.3 L425 646.7 L427 633.2 L429 619.7 L431 606.4 L433 593.1 L435 580.1 L437 567.4 L439 555 L441 542.9 L443 531.3 L445 520.1 L447 509.4 L449 499.3 L451 489.7 L453 480.7 L455 472.2 L457 464.3 L459 456.9 L461 450.1 L463 443.8 L465 438.1 L467 433 L469 428.4 L471 424.4 L473 421 L475 418.1 L477 415.8 L479 414.1 L481 413 L483 412.4 L485 412.4 L487 413 L489 414.2 L491 415.8 L493 417.9 L495 420.4 L497 423.3 L499 426.4 L501 429.7 L503 433.2 L505 436.9 L507 440.5 L509 444.2 L511 447.9 L513 451.6 L515 455.2 L517 458.8 L519 462.3 L521 465.8 L523 469.2 L525 472.5 L527 475.7 L529 478.8 L531 481.8 L533 484.6 L535 487.3 L537 489.9 L539 492.3 L541 494.5 L543 496.5 L545 498.3 L547 499.9 L549 501.3 L551 502.5 L553 503.4 L555 504 L557 504.4 L559 504.6 L561 504.4 L563 504 L565 503.2 L567 502.1 L569 500.7 L571 498.9 L573 496.8 L575 494.3 L577 491.5 L579 488.3 L581 484.6 L583 480.6 L585 476.1 L587 471.3 L589 466.2 L591 460.7 L593 455 L595 449.1 L597 443 L599 436.8 L601 430.5 L603 424.1 L605 417.7 L607 411.4 L609 405.2 L611 399.1 L613 393.1 L615 387.4 L617 381.9 L619 376.7 L621 371.8 L623 367.3 L625 363.1 L627 359.5 L629 356.3 L631 353.7 L633 351.6 L635 350.1 L637 349 L639 348.5 L641 348.4 L643 348.8 L645 349.7 L647 351 L649 352.7 L651 354.9 L653 357.5 L655 360.5 L657 363.9 L659 367.7 L661 372 L663 376.6 L665 381.6 L667 387.1 L669 393 L671 399.3 L673 406 L675 413.2 L677 420.8 L679 428.8 L681 437.2 L683 446.1 L685 455.4 L687 465.2 L689 475.3 L691 486 L693 497.1 L695 508.6 L697 520.5 L699 532.8 L701 545.5 L703 558.3 L705 571.4 L707 584.7 L709 598 L711 611.4 L713 624.9 L715 638.2 L717 651.5 L719 664.6 L721 677.5 L723 690.1 L725 702.5 L727 714.6 L729 726.5 L731 738.1 L733 749.3 L735 760.2 L737 770.8 L739 781 L741 790.9 L743 800.4 L745 809.5 L747 818.2 L749 826.4 L751 834.3 L753 841.7 L755 848.6 L757 855 L759 861 L761 866.4 L763 871.4 L765 875.8 L767 879.9 L769 883.5 L771 886.7 L773 889.5 L775 892 L777 894.2 L779 896.1 L781 897.7 L783 899.1 L785 900.2 L787 901.2 L789 902 L791 902.7 L793 903.3 L795 903.8 L797 904.2 L799 904.6 L801 905 L803 905.4 L805 905.9 L807 906.4 L809 907.1 L811 907.9 L813 908.8 L815 909.9 L817 911.2 L819 912.8 L821 914.6 L823 916.7 L825 919.1 L827 921.8 L829 925 L831 928.5 L833 932.4 L835 936.8 L837 941.6 L839 947 L841 952.8 L843 959.3 L845 966.2 L847 973.7 L849 981.7 L851 990.2 L853 999.2 L855 1008.6 L857 1018.4 L859 1028.7 L861 1039.3 L863 1050.2 L865 1061.6 L867 1073.2 L869 1085.1 L871 1097.3 L873 1109.8 L875 1122.5 L877 1135.4 L879 1148.5 L881 1161.8 L883 1175.2 L885 1188.7 L887 1202.4 L889 1216.1 L891 1229.9 L893 1243.7 L895 1257.6 L897 1271.5 L899 1285.3 L901 1299.1 L903 1312.8 L905 1326.5 L907 1340 L909 1353.4 L911 1366.7 L913 1379.8 L915 1392.7 L917 1405.4 L919 1417.9 L921 1430.1 L923 1442 L925 1453.6 L927 1464.9 L929 1475.9 L931 1486.4 L933 1496.6 L935 1506.4 L937 1515.8 L939 1524.7 L941 1533.1 L943 1541 L945 1548.4 L947 1555.2 L949 1561.5 L951 1567.2 L953 1572.3 L955 1576.7 L957 1580.5 L959 1583.7 L961 1586.1 L963 1587.8 L965 1589 L967 1589.5 L969 1589.6 L971 1589.2 L973 1588.4 L975 1587.4 L977 1586 L979 1584.5 L981 1582.8 L983 1581.1 L985 1579.3 L987 1577.5 L989 1575.6 L991 1573.7 L993 1571.8 L995 1570 L997 1568.1 L999 1566.2 L1001 1564.3 L1003 1562.5 L1005 1560.7 L1007 1558.9 L1009 1557.2 L1011 1555.6 L1013 1554 L1015 1552.4 L1017 1551 L1019 1549.6 L1021 1548.4 L1023 1547.2 L1025 1546.1 L1027 1545.2 L1029 1544.5 L1031 1544 L1033 1543.7 L1035 1543.8 L1037 1544.3 L1039 1545.1 L1041 1546.5 L1043 1548.4 L1045 1550.8 L1047 1553.8 L1049 1557.4 L1051 1561.6 L1053 1566.3 L1055 1571.4 L1057 1577.1 L1059 1583.1 L1061 1589.4 L1063 1596.1 L1065 1603 L1067 1610.2 L1069 1617.6 L1071 1625.2 L1073 1632.8 L1075 1640.6 L1077 1648.3 L1079 1656.1 L1081 1663.8 L1083 1671.5 L1085 1679 L1087 1686.4 L1089 1693.6 L1091 1700.7 L1093 1707.6 L1095 1714.3 L1097 1720.7 L1099 1727 L1101 1733 L1103 1738.7 L1105 1744.2 L1107 1749.3 L1109 1754.2 L1111 1758.7 L1113 1762.9 L1115 1766.7 L1117 1770.1 L1119 1773.1 L1121 1775.8 L1123 1778 L1125 1779.7 L1127 1781 L1129 1781.8 L1131 1782.2 L1133 1782 L1135 1781.3 L1137 1780.1 L1139 1778.4 L1141 1776.3 L1143 1773.6 L1145 1770.4 L1147 1766.7 L1149 1762.4 L1151 1757.7 L1153 1752.5 L1155 1746.8 L1157 1740.6 L1159 1734 L1161 1726.8 L1163 1719.1 L1165 1710.9 L1167 1702.2 L1169 1693.1 L1171 1683.4 L1173 1673.4 L1175 1663 L1177 1652.3 L1179 1641.4 L1181 1630.2 L1183 1618.9 L1185 1607.6 L1187 1596.2 L1189 1584.8 L1191 1573.5 L1193 1562.3 L1195 1551.2 L1197 1540.2 L1199 1529.4 L1201 1518.7 L1203 1508.2 L1205 1497.9 L1207 1487.7 L1209 1477.7 L1211 1468 L1213 1458.4 L1215 1449.1 L1217 1439.9 L1219 1431.1 L1221 1422.5 L1223 1414.1 L1225 1406 L1227 1398.2 L1229 1390.7 L1231 1383.5 L1233 1376.6 L1235 1370.1 L1237 1363.9 L1239 1358.1 L1241 1352.6 L1243 1347.6 L1245 1343.1 L1247 1339 L1249 1335.4 L1251 1332.3 L1253 1329.7 L1255 1327.7 L1257 1326.1 L1259 1324.9 L1261 1324.1 L1263 1323.5 L1265 1323.2 L1267 1323 L1269 1322.9 L1271 1322.9 L1273 1322.8 L1275 1322.7 L1277 1322.5 L1279 1322.3 L1281 1322 L1283 1321.5 L1285 1321 L1287 1320.4 L1289 1319.6 L1291 1318.8 L1293 1317.8 L1295 1316.7 L1297 1315.4 L1299 1313.9 L1301 1312.2 L1303 1310.3 L1305 1308.2 L1307 1305.7 L1309 1303 L1311 1300 L1313 1296.6 L1315 1292.8 L1317 1288.7 L1319 1284.1 L1321 1279.1 L1323 1273.7 L1325 1267.8 L1327 1261.4 L1329 1254.4 L1331 1246.9 L1333 1238.9 L1335 1230.3 L1337 1221.1 L1339 1211.5 L1341 1201.3 L1343 1190.8 L1345 1179.7 L1347 1168.3 L1349 1156.5 L1351 1144.3 L1353 1131.7 L1355 1118.9 L1357 1105.8 L1359 1092.4 L1361 1078.8 L1363 1065 L1365 1050.9 L1367 1036.8 L1369 1022.4 L1371 1008 L1373 993.5 L1375 978.9 L1377 964.3 L1379 949.7 L1381 935 L1383 920.5 L1385 905.9 L1387 891.5 L1389 877.2 L1391 863 L1393 848.9 L1395 835.1 L1397 821.4 L1399 808 L1401 794.9 L1403 782 L1405 769.5 L1407 757.2 L1409 745.4 L1411 733.9 L1413 722.8 L1415 712.2 L1417 702 L1419 692.3 L1421 683.1 L1423 674.4 L1425 666.3 L1427 658.8 L1429 651.9 L1431 645.6 L1433 639.8 L1435 634.7 L1437 630 L1439 625.9 L1441 622.2 L1443 619.1 L1445 616.3 L1447 614 L1449 612.1 L1451 610.6 L1453 609.5 L1455 608.6 L1457 608.1 L1459 607.9 L1461 607.9 L1463 608.2 L1465 608.7 L1467 609.4 L1469 610.3 L1471 611.3 L1473 612.4 L1475 613.5 L1477 614.7 L1479 615.9 L1481 617.1 L1483 618.3 L1485 619.3 L1487 620.3 L1489 621 L1491 621.7 L1493 622.1 L1495 622.3 L1497 622.2 L1499 622 L1501 621.4 L1503 620.7 L1505 619.7 L1507 618.4 L1509 616.9 L1511 615.1 L1513 613 L1515 610.7 L1517 608 L1519 605.1 L1521 601.8 L1523 598.3 L1525 594.4 L1527 590.2 L1529 585.7 L1531 580.8 L1533 575.6 L1535 570 L1537 564.1 L1539 557.8 L1541 551.2 L1543 544.2 L1545 536.8 L1547 529 L1549 520.8 L1551 512.2 L1553 503.3 L1555 494.1 L1557 484.6 L1559 474.9 L1561 465 L1563 455.1 L1565 445.1 L1567 435.1 L1569 425.1 L1571 415.3 L1573 405.6 L1575 396.1 L1577 386.9 L1579 378 L1581 369.4 L1583 361.3 L1585 353.6 L1587 346.4 L1589 339.6 L1591 333.3 L1593 327.4 L1595 322 L1597 316.9 L1599 312.3 L1601 308.1 L1603 304.3 L1605 300.9 L1607 297.8 L1609 295.2 L1611 292.9 L1613 290.9 L1615 289.3 L1617 288.1 L1619 287.5 L1621 287.3 L1623 287.8 L1625 289 L1627 290.9 L1629 293.6 L1631 297.2 L1633 301.4 L1635 306.2 L1637 311.6 L1639 317.5 L1641 323.8 L1643 330.3 L1645 337.1 L1647 344.1 L1649 351.2 L1651 358.6 L1653 366.1 L1655 373.8 L1657 381.7 L1659 389.8 L1661 398.1 L1663 406.5 L1665 415.2 L1667 424.1 L1669 433.1 L1671 442.4 L1673 451.9 L1675 461.6 L1677 471.5 L1679 481.5 L1681 491.6 L1683 501.8 L1685 511.9 L1687 522 L1689 531.9 L1691 541.7 L1693 551.3 L1695 560.6 L1697 569.6 L1699 578.2 L1701 586.4 L1703 594.2 L1705 601.4 L1707 608.1 L1709 614.2 L1711 619.7 L1713 624.7 L1715 629.3 L1717 633.3 L1719 636.9 L1721 640 L1723 642.7 L1725 645.1 L1727 647 L1729 648.7 L1731 650 L1733 651 L1735 651.8 L1737 652.3 L1739 652.6 L1741 652.6 L1743 652.5 L1745 652.3 L1747 651.9 L1749 651.4 L1751 650.8 L1753 650.1 L1755 649.4 L1757 648.7 L1759 648 L1761 647.4 L1763 646.8 L1765 646.2 L1767 645.8 L1769 645.4 L1771 645.3 L1773 645.3 L1775 645.5 L1777 645.9 L1779 646.5 L1781 647.4 L1783 648.6 L1785 650.1 L1787 651.9 L1789 654.1 L1791 656.7 L1793 659.6 L1795 663 L1797 666.8 L1799 671.1 L1801 675.9 L1803 681.2 L1805 686.9 L1807 693.2 L1809 699.8 L1811 706.9 L1813 714.5 L1815 722.5 L1817 730.9 L1819 739.7 L1821 748.9 L1823 758.6 L1825 768.6 L1827 778.9 L1829 789.7 L1831 800.8 L1833 812.3 L1835 824.1 L1837 836.2 L1839 848.7 L1841 861.4 L1843 874.5 L1845 887.9 L1847 901.5 L1849 915.5 L1851 929.7 L1853 944.2 L1855 958.9 L1857 973.8 L1859 988.8 L1861 1004 L1863 1019.3 L1865 1034.6 L1867 1049.9 L1869 1065.1 L1871 1080.3 L1873 1095.4 L1875 1110.3 L1877 1125.1 L1879 1139.6 L1881 1153.8 L1883 1167.8 L1885 1181.4 L1887 1194.6 L1889 1207.5 L1891 1219.8 L1893 1231.7 L1895 1243.1 L1897 1253.8 L1899 1264 L1901 1273.6 L1903 1282.4 L1905 1290.7 L1907 1298.3 L1909 1305.4 L1911 1311.9 L1913 1317.8 L1915 1323.3 L1917 1328.2 L1919 1332.7 L1921 1336.7 L1923 1340.4 L1925 1343.6 L1927 1346.5 L1929 1349 L1931 1351.2 L1933 1353.1 L1935 1354.8 L1937 1356.2 L1939 1357.4 L1941 1358.3 L1943 1359.1 L1945 1359.8 L1947 1360.3 L1949 1360.8 L1951 1361.2 L1953 1361.5 L1955 1361.8 L1957 1362 L1959 1362.3 L1961 1362.7 L1963 1363.1 L1965 1363.6 L1967 1364.2 L1969 1364.8 L1971 1365.6 L1973 1366.6 L1975 1367.6 L1977 1368.8 L1979 1370.2 L1981 1371.8 L1983 1373.6 L1985 1375.5 L1987 1377.7 L1989 1380.2 L1991 1382.8 L1993 1385.8 L1995 1389 L1997 1392.6 L1999 1396.4 L2001 1400.5 L2003 1405 L2005 1409.8 L2007 1415 L2009 1420.6 L2011 1426.5 L2013 1432.9 L2015 1439.6 L2017 1446.8 L2019 1454.4 L2021 1462.4 L2023 1470.8 L2025 1479.6 L2027 1488.6 L2029 1498 L2031 1507.6 L2033 1517.5 L2035 1527.6 L2037 1538 L2039 1548.5 L2041 1559.1 L2043 1569.9 L2045 1580.8 L2047 1591.8 L2049 1602.8 L2051 1613.9 L2053 1625 L2055 1636.1 L2057 1647.1 L2059 1658.1 L2061 1668.9 L2063 1679.7 L2065 1690.2 L2067 1700.4 L2069 1710.3 L2071 1719.9 L2073 1729.1 L2075 1737.7 L2077 1745.9 L2079 1753.5 L2081 1760.5 L2083 1766.8 L2085 1772.4 L2087 1777.4 L2089 1781.7 L2091 1785.4 L2093 1788.5 L2095 1791 L2097 1792.9 L2099 1794.2 L2101 1795 L2103 1795.2 L2105 1794.9 L2107 1794.1 L2109 1792.7 L2111 1790.9 L2113 1788.5 L2115 1785.7 L2117 1782.5 L2119 1778.8 L2121 1774.7 L2123 1770.1 L2125 1765.2 L2127 1759.9 L2129 1754.1 L2131 1748.1 L2133 1741.6 L2135 1734.9 L2137 1727.9 L2139 1720.6 L2141 1713.1 L2143 1705.5 L2145 1697.6 L2147 1689.7 L2149 1681.6 L2151 1673.5 L2153 1665.3 L2155 1657.2 L2157 1649 L2159 1641 L2161 1633 L2163 1625.1 L2165 1617.4 L2167 1609.8 L2169 1602.4 L2171 1595.3 L2173 1588.5 L2175 1582 L2177 1575.8 L2179 1569.9 L2181 1564.5 L2183 1559.4 L2185 1554.8 L2187 1550.5 L2189 1546.7 L2191 1543.1 L2193 1540 L2195 1537.2 L2197 1534.7 L2199 1532.5 L2201 1530.6 L2203 1529.1 L2205 1527.8 L2207 1526.8 L2209 1526 L2211 1525.5 L2213 1525.2 L2215 1525.1 L2217 1525.3 L2219 1525.6 L2221 1526.2 L2223 1526.9 L2225 1527.8 L2227 1528.8 L2229 1529.9 L2231 1531.2 L2233 1532.6 L2235 1534.1 L2237 1535.8 L2239 1537.4 L2241 1539.2 L2243 1541 L2245 1542.8 L2247 1544.7 L2249 1546.5 L2251 1548.2 L2253 1549.9 L2255 1551.3 L2257 1552.6 L2259 1553.7 L2261 1554.6 L2263 1555.1 L2265 1555.4 L2267 1555.2 L2269 1554.7 L2271 1553.8 L2273 1552.3 L2275 1550.4 L2277 1547.9 L2279 1544.9 L2281 1541.2 L2283 1536.9 L2285 1531.9 L2287 1526.3 L2289 1520.1 L2291 1513.4 L2293 1506.1 L2295 1498.2 L2297 1489.8 L2299 1481 L2301 1471.7 L2303 1461.9 L2305 1451.7 L2307 1441.1 L2309 1430.1 L2311 1418.8 L2313 1407.1 L2315 1395.1 L2317 1382.8 L2319 1370.3 L2321 1357.5 L2323 1344.5 L2325 1331.3 L2327 1317.9 L2329 1304.3 L2331 1290.6 L2333 1276.8 L2335 1262.9 L2337 1249 L2339 1234.9 L2341 1220.9 L2343 1206.9 L2345 1192.9 L2347 1178.9 L2349 1165 L2351 1151.1 L2353 1137.4 L2355 1123.8 L2357 1110.4 L2359 1097.1 L2361 1084.1 L2363 1071.2 L2365 1058.6 L2367 1046.3 L2369 1034.2 L2371 1022.5 L2373 1011 L2375 1000 L2377 989.3 L2379 979 L2381 969.1 L2383 959.7 L2385 950.7 L2387 942.2" stroke="#000" stroke-width="10.4" stroke-opacity="0.33" fill="none" stroke-dasharray="49.85 27.9" stroke-linejoin="round"/>
<path d="M323 1045 L325 1044.1 L327 1043.1 L329 1041.9 L331 1040.7 L333 1039.3 L335 1037.8 L337 1036.1 L339 1034.1 L341 1032 L343 1029.6 L345 1026.9 L347 1024 L349 1020.7 L351 1017.1 L353 1013.2 L355 1008.9 L357 1004.2 L359 999.1 L361 993.5 L363 987.5 L365 981.1 L367 974.1 L369 966.7 L371 958.9 L373 950.7 L375 942 L377 933 L379 923.6 L381 913.9 L383 903.9 L385 893.6 L387 883 L389 872.2 L391 861.1 L393 849.8 L395 838.3 L397 826.6 L399 814.7 L401 802.7 L403 790.4 L405 778 L407 765.4 L409 752.7 L411 739.8 L413 726.8 L415 713.7 L417 700.5 L419 687.2 L421 673.8 L423 660.3 L425 646.7 L427 633.2 L429 619.7 L431 606.4 L433 593.1 L435 580.1 L437 567.4 L439 555 L441 542.9 L443 531.3 L445 520.1 L447 509.4 L449 499.3 L451 489.7 L453 480.7 L455 472.2 L457 464.3 L459 456.9 L461 450.1 L463 443.8 L465 438.1 L467 433 L469 428.4 L471 424.4 L473 421 L475 418.1 L477 415.8 L479 414.1 L481 413 L483 412.4 L485 412.4 L487 413 L489 414.2 L491 415.8 L493 417.9 L495 420.4 L497 423.3 L499 426.4 L501 429.7 L503 433.2 L505 436.9 L507 440.5 L509 444.2 L511 447.9 L513 451.6 L515 455.2 L517 458.8 L519 462.3 L521 465.8 L523 469.2 L525 472.5 L527 475.7 L529 478.8 L531 481.8 L533 484.6 L535 487.3 L537 489.9 L539 492.3 L541 494.5 L543 496.5 L545 498.3 L547 499.9 L549 501.3 L551 502.5 L553 503.4 L555 504 L557 504.4 L559 504.6 L561 504.4 L563 504 L565 503.2 L567 502.1 L569 500.7 L571 498.9 L573 496.8 L575 494.3 L577 491.5 L579 488.3 L581 484.6 L583 480.6 L585 476.1 L587 471.3 L589 466.2 L591 460.7 L593 455 L595 449.1 L597 443 L599 436.8 L601 430.5 L603 424.1 L605 417.7 L607 411.4 L609 405.2 L611 399.1 L613 393.1 L615 387.4 L617 381.9 L619 376.7 L621 371.8 L623 367.3 L625 363.1 L627 359.5 L629 356.3 L631 353.7 L633 351.6 L635 350.1 L637 349 L639 348.5 L641 348.4 L643 348.8 L645 349.7 L647 351 L649 352.7 L651 354.9 L653 357.5 L655 360.5 L657 363.9 L659 367.7 L661 372 L663 376.6 L665 381.6 L667 387.1 L669 393 L671 399.3 L673 406 L675 413.2 L677 420.8 L679 428.8 L681 437.2 L683 446.1 L685 455.4 L687 465.2 L689 475.3 L691 486 L693 497.1 L695 508.6 L697 520.5 L699 532.8 L701 545.5 L703 558.3 L705 571.4 L707 584.7 L709 598 L711 611.4 L713 624.9 L715 638.2 L717 651.5 L719 664.6 L721 677.5 L723 690.1 L725 702.5 L727 714.6 L729 726.5 L731 738.1 L733 749.3 L735 760.2 L737 770.8 L739 781 L741 790.9 L743 800.4 L745 809.5 L747 818.2 L749 826.4 L751 834.3 L753 841.7 L755 848.6 L757 855 L759 861 L761 866.4 L763 871.4 L765 875.8 L767 879.9 L769 883.5 L771 886.7 L773 889.5 L775 892 L777 894.2 L779 896.1 L781 897.7 L783 899.1 L785 900.2 L787 901.2 L789 902 L791 902.7 L793 903.3 L795 903.8 L797 904.2 L799 904.6 L801 905 L803 905.4 L805 905.9 L807 906.4 L809 907.1 L811 907.9 L813 908.8 L815 909.9 L817 911.2 L819 912.8 L821 914.6 L823 916.7 L825 919.1 L827 921.8 L829 925 L831 928.5 L833 932.4 L835 936.8 L837 941.6 L839 947 L841 952.8 L843 959.3 L845 966.2 L847 973.7 L849 981.7 L851 990.2 L853 999.2 L855 1008.6 L857 1018.4 L859 1028.7 L861 1039.3 L863 1050.2 L865 1061.6 L867 1073.2 L869 1085.1 L871 1097.3 L873 1109.8 L875 1122.5 L877 1135.4 L879 1148.5 L881 1161.8 L883 1175.2 L885 1188.7 L887 1202.4 L889 1216.1 L891 1229.9 L893 1243.7 L895 1257.6 L897 1271.5 L899 1285.3 L901 1299.1 L903 1312.8 L905 1326.5 L907 1340 L909 1353.4 L911 1366.7 L913 1379.8 L915 1392.7 L917 1405.4 L919 1417.9 L921 1430.1 L923 1442 L925 1453.6 L927 1464.9 L929 1475.9 L931 1486.4 L933 1496.6 L935 1506.4 L937 1515.8 L939 1524.7 L941 1533.1 L943 1541 L945 1548.4 L947 1555.2 L949 1561.5 L951 1567.2 L953 1572.3 L955 1576.7 L957 1580.5 L959 1583.7 L961 1586.1 L963 1587.8 L965 1589 L967 1589.5 L969 1589.6 L971 1589.2 L973 1588.4 L975 1587.4 L977 1586 L979 1584.5 L981 1582.8 L983 1581.1 L985 1579.3 L987 1577.5 L989 1575.6 L991 1573.7 L993 1571.8 L995 1570 L997 1568.1 L999 1566.2 L1001 1564.3 L1003 1562.5 L1005 1560.7 L1007 1558.9 L1009 1557.2 L1011 1555.6 L1013 1554 L1015 1552.4 L1017 1551 L1019 1549.6 L1021 1548.4 L1023 1547.2 L1025 1546.1 L1027 1545.2 L1029 1544.5 L1031 1544 L1033 1543.7 L1035 1543.8 L1037 1544.3 L1039 1545.1 L1041 1546.5 L1043 1548.4 L1045 1550.8 L1047 1553.8 L1049 1557.4 L1051 1561.6 L1053 1566.3 L1055 1571.4 L1057 1577.1 L1059 1583.1 L1061 1589.4 L1063 1596.1 L1065 1603 L1067 1610.2 L1069 1617.6 L1071 1625.2 L1073 1632.8 L1075 1640.6 L1077 1648.3 L1079 1656.1 L1081 1663.8 L1083 1671.5 L1085 1679 L1087 1686.4 L1089 1693.6 L1091 1700.7 L1093 1707.6 L1095 1714.3 L1097 1720.7 L1099 1727 L1101 1733 L1103 1738.7 L1105 1744.2 L1107 1749.3 L1109 1754.2 L1111 1758.7 L1113 1762.9 L1115 1766.7 L1117 1770.1 L1119 1773.1 L1121 1775.8 L1123 1778 L1125 1779.7 L1127 1781 L1129 1781.8 L1131 1782.2 L1133 1782 L1135 1781.3 L1137 1780.1 L1139 1778.4 L1141 1776.3 L1143 1773.6 L1145 1770.4 L1147 1766.7 L1149 1762.4 L1151 1757.7 L1153 1752.5 L1155 1746.8 L1157 1740.6 L1159 1734 L1161 1726.8 L1163 1719.1 L1165 1710.9 L1167 1702.2 L1169 1693.1 L1171 1683.4 L1173 1673.4 L1175 1663 L1177 1652.3 L1179 1641.4 L1181 1630.2 L1183 1618.9 L1185 1607.6 L1187 1596.2 L1189 1584.8 L1191 1573.5 L1193 1562.3 L1195 1551.2 L1197 1540.2 L1199 1529.4 L1201 1518.7 L1203 1508.2 L1205 1497.9 L1207 1487.7 L1209 1477.7 L1211 1468 L1213 1458.4 L1215 1449.1 L1217 1439.9 L1219 1431.1 L1221 1422.5 L1223 1414.1 L1225 1406 L1227 1398.2 L1229 1390.7 L1231 1383.5 L1233 1376.6 L1235 1370.1 L1237 1363.9 L1239 1358.1 L1241 1352.6 L1243 1347.6 L1245 1343.1 L1247 1339 L1249 1335.4 L1251 1332.3 L1253 1329.7 L1255 1327.7 L1257 1326.1 L1259 1324.9 L1261 1324.1 L1263 1323.5 L1265 1323.2 L1267 1323 L1269 1322.9 L1271 1322.9 L1273 1322.8 L1275 1322.7 L1277 1322.5 L1279 1322.3 L1281 1322 L1283 1321.5 L1285 1321 L1287 1320.4 L1289 1319.6 L1291 1318.8 L1293 1317.8 L1295 1316.7 L1297 1315.4 L1299 1313.9 L1301 1312.2 L1303 1310.3 L1305 1308.2 L1307 1305.7 L1309 1303 L1311 1300 L1313 1296.6 L1315 1292.8 L1317 1288.7 L1319 1284.1 L1321 1279.1 L1323 1273.7 L1325 1267.8 L1327 1261.4 L1329 1254.4 L1331 1246.9 L1333 1238.9 L1335 1230.3 L1337 1221.1 L1339 1211.5 L1341 1201.3 L1343 1190.8 L1345 1179.7 L1347 1168.3 L1349 1156.5 L1351 1144.3 L1353 1131.7 L1355 1118.9 L1357 1105.8 L1359 1092.4 L1361 1078.8 L1363 1065 L1365 1050.9 L1367 1036.8 L1369 1022.4 L1371 1008 L1373 993.5 L1375 978.9 L1377 964.3 L1379 949.7 L1381 935 L1383 920.5 L1385 905.9 L1387 891.5 L1389 877.2 L1391 863 L1393 848.9 L1395 835.1 L1397 821.4 L1399 808 L1401 794.9 L1403 782 L1405 769.5 L1407 757.2 L1409 745.4 L1411 733.9 L1413 722.8 L1415 712.2 L1417 702 L1419 692.3 L1421 683.1 L1423 674.4 L1425 666.3 L1427 658.8 L1429 651.9 L1431 645.6 L1433 639.8 L1435 634.7 L1437 630 L1439 625.9 L1441 622.2 L1443 619.1 L1445 616.3 L1447 614 L1449 612.1 L1451 610.6 L1453 609.5 L1455 608.6 L1457 608.1 L1459 607.9 L1461 607.9 L1463 608.2 L1465 608.7 L1467 609.4 L1469 610.3 L1471 611.3 L1473 612.4 L1475 613.5 L1477 614.7 L1479 615.9 L1481 617.1 L1483 618.3 L1485 619.3 L1487 620.3 L1489 621 L1491 621.7 L1493 622.1 L1495 622.3 L1497 622.2 L1499 622 L1501 621.4 L1503 620.7 L1505 619.7 L1507 618.4 L1509 616.9 L1511 615.1 L1513 613 L1515 610.7 L1517 608 L1519 605.1 L1521 601.8 L1523 598.3 L1525 594.4 L1527 590.2 L1529 585.7 L1531 580.8 L1533 575.6 L1535 570 L1537 564.1 L1539 557.8 L1541 551.2 L1543 544.2 L1545 536.8 L1547 529 L1549 520.8 L1551 512.2 L1553 503.3 L1555 494.1 L1557 484.6 L1559 474.9 L1561 465 L1563 455.1 L1565 445.1 L1567 435.1 L1569 425.1 L1571 415.3 L1573 405.6 L1575 396.1 L1577 386.9 L1579 378 L1581 369.4 L1583 361.3 L1585 353.6 L1587 346.4 L1589 339.6 L1591 333.3 L1593 327.4 L1595 322 L1597 316.9 L1599 312.3 L1601 308.1 L1603 304.3 L1605 300.9 L1607 297.8 L1609 295.2 L1611 292.9 L1613 290.9 L1615 289.3 L1617 288.1 L1619 287.5 L1621 287.3 L1623 287.8 L1625 289 L1627 290.9 L1629 293.6 L1631 297.2 L1633 301.4 L1635 306.2 L1637 311.6 L1639 317.5 L1641 323.8 L1643 330.3 L1645 337.1 L1647 344.1 L1649 351.2 L1651 358.6 L1653 366.1 L1655 373.8 L1657 381.7 L1659 389.8 L1661 398.1 L1663 406.5 L1665 415.2 L1667 424.1 L1669 433.1 L1671 442.4 L1673 451.9 L1675 461.6 L1677 471.5 L1679 481.5 L1681 491.6 L1683 501.8 L1685 511.9 L1687 522 L1689 531.9 L1691 541.7 L1693 551.3 L1695 560.6 L1697 569.6 L1699 578.2 L1701 586.4 L1703 594.2 L1705 601.4 L1707 608.1 L1709 614.2 L1711 619.7 L1713 624.7 L1715 629.3 L1717 633.3 L1719 636.9 L1721 640 L1723 642.7 L1725 645.1 L1727 647 L1729 648.7 L1731 650 L1733 651 L1735 651.8 L1737 652.3 L1739 652.6 L1741 652.6 L1743 652.5 L1745 652.3 L1747 651.9 L1749 651.4 L1751 650.8 L1753 650.1 L1755 649.4 L1757 648.7 L1759 648 L1761 647.4 L1763 646.8 L1765 646.2 L1767 645.8 L1769 645.4 L1771 645.3 L1773 645.3 L1775 645.5 L1777 645.9 L1779 646.5 L1781 647.4 L1783 648.6 L1785 650.1 L1787 651.9 L1789 654.1 L1791 656.7 L1793 659.6 L1795 663 L1797 666.8 L1799 671.1 L1801 675.9 L1803 681.2 L1805 686.9 L1807 693.2 L1809 699.8 L1811 706.9 L1813 714.5 L1815 722.5 L1817 730.9 L1819 739.7 L1821 748.9 L1823 758.6 L1825 768.6 L1827 778.9 L1829 789.7 L1831 800.8 L1833 812.3 L1835 824.1 L1837 836.2 L1839 848.7 L1841 861.4 L1843 874.5 L1845 887.9 L1847 901.5 L1849 915.5 L1851 929.7 L1853 944.2 L1855 958.9 L1857 973.8 L1859 988.8 L1861 1004 L1863 1019.3 L1865 1034.6 L1867 1049.9 L1869 1065.1 L1871 1080.3 L1873 1095.4 L1875 1110.3 L1877 1125.1 L1879 1139.6 L1881 1153.8 L1883 1167.8 L1885 1181.4 L1887 1194.6 L1889 1207.5 L1891 1219.8 L1893 1231.7 L1895 1243.1 L1897 1253.8 L1899 1264 L1901 1273.6 L1903 1282.4 L1905 1290.7 L1907 1298.3 L1909 1305.4 L1911 1311.9 L1913 1317.8 L1915 1323.3 L1917 1328.2 L1919 1332.7 L1921 1336.7 L1923 1340.4 L1925 1343.6 L1927 1346.5 L1929 1349 L1931 1351.2 L1933 1353.1 L1935 1354.8 L1937 1356.2 L1939 1357.4 L1941 1358.3 L1943 1359.1 L1945 1359.8 L1947 1360.3 L1949 1360.8 L1951 1361.2 L1953 1361.5 L1955 1361.8 L1957 1362 L1959 1362.3 L1961 1362.7 L1963 1363.1 L1965 1363.6 L1967 1364.2 L1969 1364.8 L1971 1365.6 L1973 1366.6 L1975 1367.6 L1977 1368.8 L1979 1370.2 L1981 1371.8 L1983 1373.6 L1985 1375.5 L1987 1377.7 L1989 1380.2 L1991 1382.8 L1993 1385.8 L1995 1389 L1997 1392.6 L1999 1396.4 L2001 1400.5 L2003 1405 L2005 1409.8 L2007 1415 L2009 1420.6 L2011 1426.5 L2013 1432.9 L2015 1439.6 L2017 1446.8 L2019 1454.4 L2021 1462.4 L2023 1470.8 L2025 1479.6 L2027 1488.6 L2029 1498 L2031 1507.6 L2033 1517.5 L2035 1527.6 L2037 1538 L2039 1548.5 L2041 1559.1 L2043 1569.9 L2045 1580.8 L2047 1591.8 L2049 1602.8 L2051 1613.9 L2053 1625 L2055 1636.1 L2057 1647.1 L2059 1658.1 L2061 1668.9 L2063 1679.7 L2065 1690.2 L2067 1700.4 L2069 1710.3 L2071 1719.9 L2073 1729.1 L2075 1737.7 L2077 1745.9 L2079 1753.5 L2081 1760.5 L2083 1766.8 L2085 1772.4 L2087 1777.4 L2089 1781.7 L2091 1785.4 L2093 1788.5 L2095 1791 L2097 1792.9 L2099 1794.2 L2101 1795 L2103 1795.2 L2105 1794.9 L2107 1794.1 L2109 1792.7 L2111 1790.9 L2113 1788.5 L2115 1785.7 L2117 1782.5 L2119 1778.8 L2121 1774.7 L2123 1770.1 L2125 1765.2 L2127 1759.9 L2129 1754.1 L2131 1748.1 L2133 1741.6 L2135 1734.9 L2137 1727.9 L2139 1720.6 L2141 1713.1 L2143 1705.5 L2145 1697.6 L2147 1689.7 L2149 1681.6 L2151 1673.5 L2153 1665.3 L2155 1657.2 L2157 1649 L2159 1641 L2161 1633 L2163 1625.1 L2165 1617.4 L2167 1609.8 L2169 1602.4 L2171 1595.3 L2173 1588.5 L2175 1582 L2177 1575.8 L2179 1569.9 L2181 1564.5 L2183 1559.4 L2185 1554.8 L2187 1550.5 L2189 1546.7 L2191 1543.1 L2193 1540 L2195 1537.2 L2197 1534.7 L2199 1532.5 L2201 1530.6 L2203 1529.1 L2205 1527.8 L2207 1526.8 L2209 1526 L2211 1525.5 L2213 1525.2 L2215 1525.1 L2217 1525.3 L2219 1525.6 L2221 1526.2 L2223 1526.9 L2225 1527.8 L2227 1528.8 L2229 1529.9 L2231 1531.2 L2233 1532.6 L2235 1534.1 L2237 1535.8 L2239 1537.4 L2241 1539.2 L2243 1541 L2245 1542.8 L2247 1544.7 L2249 1546.5 L2251 1548.2 L2253 1549.9 L2255 1551.3 L2257 1552.6 L2259 1553.7 L2261 1554.6 L2263 1555.1 L2265 1555.4 L2267 1555.2 L2269 1554.7 L2271 1553.8 L2273 1552.3 L2275 1550.4 L2277 1547.9 L2279 1544.9 L2281 1541.2 L2283 1536.9 L2285 1531.9 L2287 1526.3 L2289 1520.1 L2291 1513.4 L2293 1506.1 L2295 1498.2 L2297 1489.8 L2299 1481 L2301 1471.7 L2303 1461.9 L2305 1451.7 L2307 1441.1 L2309 1430.1 L2311 1418.8 L2313 1407.1 L2315 1395.1 L2317 1382.8 L2319 1370.3 L2321 1357.5 L2323 1344.5 L2325 1331.3 L2327 1317.9 L2329 1304.3 L2331 1290.6 L2333 1276.8 L2335 1262.9 L2337 1249 L2339 1234.9 L2341 1220.9 L2343 1206.9 L2345 1192.9 L2347 1178.9 L2349 1165 L2351 1151.1 L2353 1137.4 L2355 1123.8 L2357 1110.4 L2359 1097.1 L2361 1084.1 L2363 1071.2 L2365 1058.6 L2367 1046.3 L2369 1034.2 L2371 1022.5 L2373 1011 L2375 1000 L2377 989.3 L2379 979 L2381 969.1 L2383 959.7 L2385 950.7 L2387 942.2" stroke="#000" stroke-width="5.8999999999999995" stroke-opacity="0.9" fill="none" stroke-dasharray="48.85 28.9" stroke-dashoffset="-0.5" stroke-linejoin="round"/>
<rect x="323" y="229.5" width="2063.3" height="1630.2" fill="none" stroke="#262626" stroke-width="8.2" stroke-opacity="0.42"/>
<rect x="323" y="229.5" width="2063.3" height="1630.2" fill="none" stroke="#262626" stroke-width="3.6" stroke-opacity="0.8"/>
<path d="M528 1859.7v-21M528 229.5v21M733.3 1859.7v-21M733.3 229.5v21M942.3 1859.7v-21M942.3 229.5v21M1147.3 1859.7v-21M1147.3 229.5v21M1357 1859.7v-21M1357 229.5v21M1561.7 1859.7v-21M1561.7 229.5v21M1766.4 1859.7v-21M1766.4 229.5v21M1976.1 1859.7v-21M1976.1 229.5v21M2181.3 1859.7v-21M2181.3 229.5v21M323 391.5h21M2386.3 391.5h-21M323 554h21M2386.3 554h-21M323 715.8h21M2386.3 715.8h-21M323 882.7h21M2386.3 882.7h-21M323 1044.5h21M2386.3 1044.5h-21M323 1206.8h21M2386.3 1206.8h-21M323 1373h21M2386.3 1373h-21M323 1535h21M2386.3 1535h-21M323 1697.7h21M2386.3 1697.7h-21" stroke="#262626" stroke-width="7.6" stroke-opacity="0.36" fill="none"/>
<path d="M528 1859.7v-21M528 229.5v21M733.3 1859.7v-21M733.3 229.5v21M942.3 1859.7v-21M942.3 229.5v21M1147.3 1859.7v-21M1147.3 229.5v21M1357 1859.7v-21M1357 229.5v21M1561.7 1859.7v-21M1561.7 229.5v21M1766.4 1859.7v-21M1766.4 229.5v21M1976.1 1859.7v-21M1976.1 229.5v21M2181.3 1859.7v-21M2181.3 229.5v21M323 391.5h21M2386.3 391.5h-21M323 554h21M2386.3 554h-21M323 715.8h21M2386.3 715.8h-21M323 882.7h21M2386.3 882.7h-21M323 1044.5h21M2386.3 1044.5h-21M323 1206.8h21M2386.3 1206.8h-21M323 1373h21M2386.3 1373h-21M323 1535h21M2386.3 1535h-21M323 1697.7h21M2386.3 1697.7h-21" stroke="#262626" stroke-width="3.2" stroke-opacity="0.8" fill="none"/>
<rect x="1829.3" y="282.2" width="504.2" height="247.1" fill="#fff" stroke="#262626" stroke-width="9.4" stroke-opacity="0.45"/>
<rect x="1829.3" y="282.2" width="504.2" height="247.1" fill="none" stroke="#262626" stroke-width="4.6" stroke-opacity="0.8"/>
<path d="M1842.6 324.8H2037.8" stroke="#0000ff" stroke-width="10.4" stroke-opacity="0.3" fill="none" /><path d="M1842.6 324.8H2037.8" stroke="#0000ff" stroke-width="5.3" stroke-opacity="0.84" fill="none" />
<path d="M1927.9 314.7 h29.2 v29.2 h-29.2 Z" stroke="#0000ff" stroke-width="11" stroke-opacity="0.3" fill="none" /><path d="M1927.9 314.7 h29.2 v29.2 h-29.2 Z" stroke="#0000ff" stroke-width="6.2" stroke-opacity="0.84" fill="none" />
<path d="M1842.6 405.8H2037.8" stroke="#ff0000" stroke-width="10.4" stroke-opacity="0.3" fill="none" /><path d="M1842.6 405.8H2037.8" stroke="#ff0000" stroke-width="5.3" stroke-opacity="0.84" fill="none" />
<path d="M1940.7 381.3 L1960.7 419.8 L1920.7 419.8 Z" stroke="#ff0000" stroke-width="11" stroke-opacity="0.3" fill="none" /><path d="M1940.7 381.3 L1960.7 419.8 L1920.7 419.8 Z" stroke="#ff0000" stroke-width="6.2" stroke-opacity="0.84" fill="none" />
<path d="M1841.6 487H2038.8" stroke="#000" stroke-width="10.4" stroke-opacity="0.3" stroke-dasharray="52 26.5"/>
<path d="M1842.6 487H2037.8" stroke="#000" stroke-width="5.8999999999999995" stroke-opacity="0.9" stroke-dasharray="50 28.5"/>
<g class="sans" font-size="57" fill="#161616" stroke="#161616" stroke-width="1.3" filter="url(#bt)">
<text x="2050" y="351">ES-Q4</text><text x="2050" y="427.5">Adaptive</text><text x="2050" y="508.5">Reference</text></g>
<g class="sans" font-size="63.3" fill="#303030" stroke="#303030" stroke-width="1.2" filter="url(#bt)">
<text x="319" y="1953" text-anchor="middle">0</text>
<text x="528" y="1953" text-anchor="middle">0.1</text>
<text x="733.3" y="1953" text-anchor="middle">0.2</text>
<text x="942.3" y="1953" text-anchor="middle">0.3</text>
<text x="1147.3" y="1953" text-anchor="middle">0.4</text>
<text x="1357" y="1953" text-anchor="middle">0.5</text>
<text x="1561.7" y="1953" text-anchor="middle">0.6</text>
<text x="1766.4" y="1953" text-anchor="middle">0.7</text>
<text x="1976.1" y="1953" text-anchor="middle">0.8</text>
<text x="2181.3" y="1953" text-anchor="middle">0.9</text>
<text x="2386.3" y="1953" text-anchor="middle">1</text>
<text x="289.5" y="254.6" text-anchor="end">1</text>
<text x="295.5" y="417.6" text-anchor="end">0.8</text>
<text x="295.5" y="584.5" text-anchor="end">0.6</text>
<text x="295.5" y="747" text-anchor="end">0.4</text>
<text x="295.5" y="910.4" text-anchor="end">0.2</text>
<text x="291.5" y="1075.4" text-anchor="end">0</text>
<text x="295.5" y="1238.1" text-anchor="end">-0.2</text>
<text x="295.5" y="1400.1" text-anchor="end">-0.4</text>
<text x="295.5" y="1564.6" text-anchor="end">-0.6</text>
<text x="295.5" y="1728.1" text-anchor="end">-0.8</text>
<text x="289.5" y="1891.3" text-anchor="end">-1</text>
<text x="325" y="218.5" fill="#555" stroke="none">×</text><text x="373" y="212">10</text><text x="445" y="186" font-size="52">-6</text>
</g>
</g>
<g class="serif" font-size="89.2" fill="#000" filter="url(#b2)">
<text x="1354.8" y="112" text-anchor="middle" font-size="90">Mesh I</text>
<text x="1353" y="2114.5" text-anchor="middle">Time (sec)</text>
<text transform="translate(117 1049) rotate(-90)" text-anchor="middle">Displacement (m)</text>
</g>
</svg></body></html>
